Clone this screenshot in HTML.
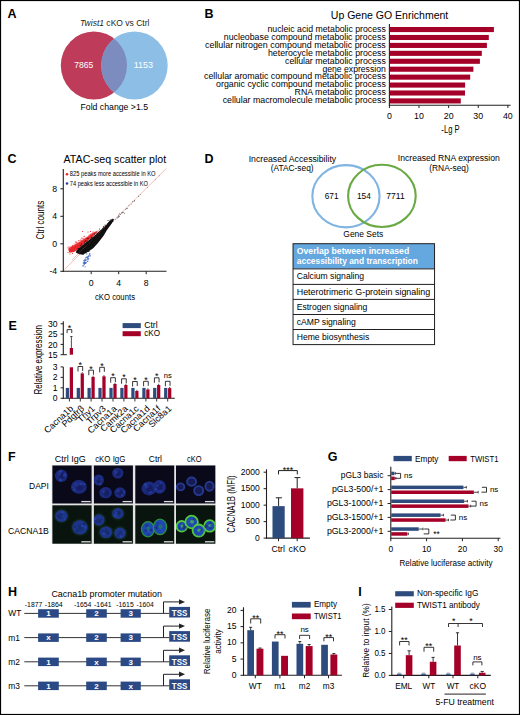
<!DOCTYPE html>
<html><head><meta charset="utf-8"><style>
html,body{margin:0;padding:0;background:#fff;}
svg{display:block;}
text{font-family:"Liberation Sans", sans-serif;}
</style></head><body>
<svg width="520" height="715" viewBox="0 0 520 715">
<rect width="520" height="715" fill="#fff"/>
<text x="7.50" y="18.00" font-size="12.5" font-weight="bold" fill="#000">A</text>
<text x="80" y="26" font-size="9" fill="#231f20" textLength="69.5" lengthAdjust="spacingAndGlyphs"><tspan font-style="italic">Twist1</tspan> cKO vs Ctrl</text>
<ellipse cx="93.9" cy="65.5" rx="33.1" ry="34" fill="#be3c5a"/>
<ellipse cx="134.45" cy="65.55" rx="33.25" ry="34.05" fill="#8cbee6"/>
<clipPath id="cA"><ellipse cx="93.9" cy="65.5" rx="33.1" ry="34"/></clipPath>
<ellipse cx="134.45" cy="65.55" rx="33.25" ry="34.05" fill="#7d8cbe" clip-path="url(#cA)"/>
<text x="83.70" y="68.40" font-size="9.9" text-anchor="middle" fill="#fff" textLength="19.00" lengthAdjust="spacingAndGlyphs">7865</text>
<text x="143.30" y="68.40" font-size="9.9" text-anchor="middle" fill="#fff" textLength="19.20" lengthAdjust="spacingAndGlyphs">1153</text>
<text x="80.50" y="110.00" font-size="9" textLength="67.50" lengthAdjust="spacingAndGlyphs">Fold change &gt;1.5</text>
<text x="204.50" y="18.30" font-size="12.5" font-weight="bold" fill="#000">B</text>
<text x="330.80" y="18.50" font-size="10" textLength="117.50" lengthAdjust="spacingAndGlyphs">Up Gene GO Enrichment</text>
<text x="385.80" y="32.30" font-size="8.4" text-anchor="end" textLength="118.30" lengthAdjust="spacingAndGlyphs">nucleic acid metabolic process</text>
<rect x="390.00" y="27.00" width="103.90" height="5.10" fill="#a50028"/>
<text x="385.80" y="40.16" font-size="8.4" text-anchor="end" textLength="162.05" lengthAdjust="spacingAndGlyphs">nucleobase compound metabolic process</text>
<rect x="390.00" y="34.93" width="98.80" height="5.10" fill="#a50028"/>
<text x="385.80" y="48.02" font-size="8.4" text-anchor="end" textLength="180.80" lengthAdjust="spacingAndGlyphs">cellular nitrogen compound metabolic process</text>
<rect x="390.00" y="42.86" width="96.90" height="5.10" fill="#a50028"/>
<text x="385.80" y="55.88" font-size="8.4" text-anchor="end" textLength="117.80" lengthAdjust="spacingAndGlyphs">heterocycle metabolic process</text>
<rect x="390.00" y="50.79" width="91.80" height="5.10" fill="#a50028"/>
<text x="385.80" y="63.74" font-size="8.4" text-anchor="end" textLength="100.80" lengthAdjust="spacingAndGlyphs">cellular metabolic process</text>
<rect x="390.00" y="58.72" width="89.90" height="5.10" fill="#a50028"/>
<text x="385.80" y="71.60" font-size="8.4" text-anchor="end" textLength="63.40" lengthAdjust="spacingAndGlyphs">gene expression</text>
<rect x="390.00" y="66.65" width="83.40" height="5.10" fill="#a50028"/>
<text x="385.80" y="79.46" font-size="8.4" text-anchor="end" textLength="181.80" lengthAdjust="spacingAndGlyphs">cellular aromatic compound metabolic process</text>
<rect x="390.00" y="74.58" width="80.20" height="5.10" fill="#a50028"/>
<text x="385.80" y="87.32" font-size="8.4" text-anchor="end" textLength="169.70" lengthAdjust="spacingAndGlyphs">organic cyclic compound metabolic process</text>
<rect x="390.00" y="82.51" width="75.10" height="5.10" fill="#a50028"/>
<text x="385.80" y="95.18" font-size="8.4" text-anchor="end" textLength="91.20" lengthAdjust="spacingAndGlyphs">RNA metabolic process</text>
<rect x="390.00" y="90.44" width="75.00" height="5.10" fill="#a50028"/>
<text x="385.80" y="103.04" font-size="8.4" text-anchor="end" textLength="163.10" lengthAdjust="spacingAndGlyphs">cellular macromolecule metabolic process</text>
<rect x="390.00" y="98.37" width="70.80" height="5.10" fill="#a50028"/>
<line x1="389.40" y1="24.00" x2="389.40" y2="105.70" stroke="#231f20" stroke-width="1.1"/>
<line x1="388.90" y1="105.20" x2="510.60" y2="105.20" stroke="#231f20" stroke-width="1.1"/>
<line x1="389.40" y1="105.20" x2="389.40" y2="108.00" stroke="#231f20" stroke-width="1"/>
<text x="389.40" y="118.80" font-size="8.8" text-anchor="middle">0</text>
<line x1="419.02" y1="105.20" x2="419.02" y2="108.00" stroke="#231f20" stroke-width="1"/>
<text x="419.02" y="118.80" font-size="8.8" text-anchor="middle">10</text>
<line x1="448.64" y1="105.20" x2="448.64" y2="108.00" stroke="#231f20" stroke-width="1"/>
<text x="448.64" y="118.80" font-size="8.8" text-anchor="middle">20</text>
<line x1="478.26" y1="105.20" x2="478.26" y2="108.00" stroke="#231f20" stroke-width="1"/>
<text x="478.26" y="118.80" font-size="8.8" text-anchor="middle">30</text>
<line x1="507.88" y1="105.20" x2="507.88" y2="108.00" stroke="#231f20" stroke-width="1"/>
<text x="507.88" y="118.80" font-size="8.8" text-anchor="middle">40</text>
<text x="450.50" y="133.30" font-size="10" text-anchor="middle" textLength="18.30" lengthAdjust="spacingAndGlyphs">-Lg P</text>
<text x="7.50" y="163.00" font-size="12.5" font-weight="bold" fill="#000">C</text>
<text x="63.50" y="162.50" font-size="10.5" textLength="102.70" lengthAdjust="spacingAndGlyphs">ATAC-seq scatter plot</text>
<line x1="64.40" y1="269.50" x2="166.50" y2="168.30" stroke="#f0a0a0" stroke-width="0.7"/>
<g>
<path d="M68.2,249.5 L70.5,247 L76,244 L82,240.5 L88,236.5 L93,233 L96.5,231 L97.5,232 L92,237.5 L84,244 L79,248.5 L74,252 L69.5,252.8 Z" fill="#e8262b" stroke="none" stroke-width="1"/>
<circle cx="77.4" cy="243.5" r="0.45" fill="#ee4040" opacity="0.85"/><circle cx="78.9" cy="242.7" r="0.45" fill="#ee4040" opacity="0.85"/><circle cx="69.7" cy="248.9" r="0.45" fill="#ee4040" opacity="0.85"/><circle cx="91.0" cy="234.7" r="0.45" fill="#ee4040" opacity="0.85"/><circle cx="84.4" cy="236.1" r="0.45" fill="#ee4040" opacity="0.85"/><circle cx="68.8" cy="246.6" r="0.45" fill="#ee4040" opacity="0.85"/><circle cx="72.5" cy="246.4" r="0.45" fill="#ee4040" opacity="0.85"/><circle cx="83.8" cy="238.3" r="0.45" fill="#ee4040" opacity="0.85"/><circle cx="83.5" cy="239.8" r="0.45" fill="#ee4040" opacity="0.85"/><circle cx="78.8" cy="241.1" r="0.45" fill="#ee4040" opacity="0.85"/><circle cx="81.5" cy="240.9" r="0.45" fill="#ee4040" opacity="0.85"/><circle cx="82.8" cy="238.5" r="0.45" fill="#ee4040" opacity="0.85"/><circle cx="89.4" cy="236.4" r="0.45" fill="#ee4040" opacity="0.85"/><circle cx="89.0" cy="236.0" r="0.45" fill="#ee4040" opacity="0.85"/><circle cx="68.4" cy="247.0" r="0.45" fill="#ee4040" opacity="0.85"/><circle cx="76.3" cy="242.4" r="0.45" fill="#ee4040" opacity="0.85"/><circle cx="83.0" cy="238.0" r="0.45" fill="#ee4040" opacity="0.85"/><circle cx="87.2" cy="237.8" r="0.45" fill="#ee4040" opacity="0.85"/><circle cx="84.5" cy="236.1" r="0.45" fill="#ee4040" opacity="0.85"/><circle cx="86.6" cy="236.9" r="0.45" fill="#ee4040" opacity="0.85"/><circle cx="73.4" cy="246.3" r="0.45" fill="#ee4040" opacity="0.85"/><circle cx="74.4" cy="245.3" r="0.45" fill="#ee4040" opacity="0.85"/><circle cx="70.1" cy="247.5" r="0.45" fill="#ee4040" opacity="0.85"/><circle cx="90.9" cy="233.6" r="0.45" fill="#ee4040" opacity="0.85"/><circle cx="75.9" cy="241.4" r="0.45" fill="#ee4040" opacity="0.85"/><circle cx="74.8" cy="245.5" r="0.45" fill="#ee4040" opacity="0.85"/><circle cx="84.9" cy="238.8" r="0.45" fill="#ee4040" opacity="0.85"/><circle cx="84.5" cy="238.9" r="0.45" fill="#ee4040" opacity="0.85"/><circle cx="81.2" cy="240.3" r="0.45" fill="#ee4040" opacity="0.85"/><circle cx="89.9" cy="234.5" r="0.45" fill="#ee4040" opacity="0.85"/><circle cx="79.3" cy="242.1" r="0.45" fill="#ee4040" opacity="0.85"/><circle cx="70.6" cy="248.3" r="0.45" fill="#ee4040" opacity="0.85"/><circle cx="78.2" cy="243.7" r="0.45" fill="#ee4040" opacity="0.85"/><circle cx="79.4" cy="242.9" r="0.45" fill="#ee4040" opacity="0.85"/><circle cx="85.4" cy="238.0" r="0.45" fill="#ee4040" opacity="0.85"/><circle cx="72.4" cy="245.3" r="0.45" fill="#ee4040" opacity="0.85"/><circle cx="81.2" cy="241.3" r="0.45" fill="#ee4040" opacity="0.85"/><circle cx="75.7" cy="244.0" r="0.45" fill="#ee4040" opacity="0.85"/><circle cx="68.2" cy="248.2" r="0.45" fill="#ee4040" opacity="0.85"/><circle cx="67.3" cy="247.7" r="0.45" fill="#ee4040" opacity="0.85"/><circle cx="91.7" cy="233.9" r="0.45" fill="#ee4040" opacity="0.85"/><circle cx="88.5" cy="235.3" r="0.45" fill="#ee4040" opacity="0.85"/><circle cx="78.5" cy="244.4" r="0.45" fill="#ee4040" opacity="0.85"/><circle cx="90.9" cy="234.5" r="0.45" fill="#ee4040" opacity="0.85"/><circle cx="74.1" cy="244.7" r="0.45" fill="#ee4040" opacity="0.85"/><circle cx="76.5" cy="245.3" r="0.45" fill="#ee4040" opacity="0.85"/><circle cx="92.9" cy="231.7" r="0.45" fill="#ee4040" opacity="0.85"/><circle cx="78.7" cy="243.3" r="0.45" fill="#ee4040" opacity="0.85"/><circle cx="74.6" cy="246.4" r="0.45" fill="#ee4040" opacity="0.85"/><circle cx="80.3" cy="239.2" r="0.45" fill="#ee4040" opacity="0.85"/><circle cx="69.1" cy="247.0" r="0.45" fill="#ee4040" opacity="0.85"/><circle cx="80.6" cy="240.2" r="0.45" fill="#ee4040" opacity="0.85"/><circle cx="75.8" cy="242.4" r="0.45" fill="#ee4040" opacity="0.85"/><circle cx="93.9" cy="232.0" r="0.45" fill="#ee4040" opacity="0.85"/><circle cx="72.0" cy="246.0" r="0.45" fill="#ee4040" opacity="0.85"/><circle cx="91.5" cy="234.4" r="0.45" fill="#ee4040" opacity="0.85"/><circle cx="77.9" cy="244.2" r="0.45" fill="#ee4040" opacity="0.85"/><circle cx="85.1" cy="237.7" r="0.45" fill="#ee4040" opacity="0.85"/><circle cx="78.7" cy="240.6" r="0.45" fill="#ee4040" opacity="0.85"/><circle cx="76.2" cy="244.3" r="0.45" fill="#ee4040" opacity="0.85"/><circle cx="75.6" cy="244.9" r="0.45" fill="#ee4040" opacity="0.85"/><circle cx="79.9" cy="240.4" r="0.45" fill="#ee4040" opacity="0.85"/><circle cx="79.0" cy="240.5" r="0.45" fill="#ee4040" opacity="0.85"/><circle cx="69.0" cy="249.0" r="0.45" fill="#ee4040" opacity="0.85"/><circle cx="68.6" cy="248.4" r="0.45" fill="#ee4040" opacity="0.85"/><circle cx="83.5" cy="240.0" r="0.45" fill="#ee4040" opacity="0.85"/><circle cx="83.7" cy="239.3" r="0.45" fill="#ee4040" opacity="0.85"/><circle cx="76.3" cy="243.8" r="0.45" fill="#ee4040" opacity="0.85"/><circle cx="82.9" cy="238.9" r="0.45" fill="#ee4040" opacity="0.85"/><circle cx="81.4" cy="240.1" r="0.45" fill="#ee4040" opacity="0.85"/><circle cx="79.9" cy="241.1" r="0.45" fill="#ee4040" opacity="0.85"/><circle cx="92.4" cy="233.4" r="0.45" fill="#ee4040" opacity="0.85"/><circle cx="81.9" cy="238.0" r="0.45" fill="#ee4040" opacity="0.85"/><circle cx="80.9" cy="241.5" r="0.45" fill="#ee4040" opacity="0.85"/><circle cx="69.3" cy="247.6" r="0.45" fill="#ee4040" opacity="0.85"/><circle cx="87.8" cy="236.4" r="0.45" fill="#ee4040" opacity="0.85"/><circle cx="92.0" cy="233.8" r="0.45" fill="#ee4040" opacity="0.85"/><circle cx="82.8" cy="240.6" r="0.45" fill="#ee4040" opacity="0.85"/><circle cx="72.5" cy="245.4" r="0.45" fill="#ee4040" opacity="0.85"/><circle cx="77.0" cy="243.2" r="0.45" fill="#ee4040" opacity="0.85"/><circle cx="83.8" cy="239.3" r="0.45" fill="#ee4040" opacity="0.85"/><circle cx="82.9" cy="239.8" r="0.45" fill="#ee4040" opacity="0.85"/><circle cx="89.8" cy="235.2" r="0.45" fill="#ee4040" opacity="0.85"/><circle cx="89.7" cy="235.8" r="0.45" fill="#ee4040" opacity="0.85"/><circle cx="78.3" cy="240.4" r="0.45" fill="#ee4040" opacity="0.85"/><circle cx="92.5" cy="232.5" r="0.45" fill="#ee4040" opacity="0.85"/><circle cx="70.2" cy="246.3" r="0.45" fill="#ee4040" opacity="0.85"/><circle cx="93.6" cy="232.2" r="0.45" fill="#ee4040" opacity="0.85"/><circle cx="70.9" cy="248.2" r="0.45" fill="#ee4040" opacity="0.85"/><circle cx="76.2" cy="242.3" r="0.45" fill="#ee4040" opacity="0.85"/><circle cx="75.8" cy="243.9" r="0.45" fill="#ee4040" opacity="0.85"/><circle cx="73.2" cy="246.3" r="0.45" fill="#ee4040" opacity="0.85"/><circle cx="77.6" cy="243.3" r="0.45" fill="#ee4040" opacity="0.85"/><circle cx="72.6" cy="245.3" r="0.45" fill="#ee4040" opacity="0.85"/><circle cx="74.1" cy="243.1" r="0.45" fill="#ee4040" opacity="0.85"/><circle cx="81.8" cy="240.9" r="0.45" fill="#ee4040" opacity="0.85"/><circle cx="90.2" cy="234.3" r="0.45" fill="#ee4040" opacity="0.85"/><circle cx="81.2" cy="238.4" r="0.45" fill="#ee4040" opacity="0.85"/><circle cx="76.8" cy="242.4" r="0.45" fill="#ee4040" opacity="0.85"/><circle cx="77.8" cy="242.7" r="0.45" fill="#ee4040" opacity="0.85"/><circle cx="70.5" cy="248.3" r="0.45" fill="#ee4040" opacity="0.85"/><circle cx="91.8" cy="233.9" r="0.45" fill="#ee4040" opacity="0.85"/><circle cx="77.0" cy="244.2" r="0.45" fill="#ee4040" opacity="0.85"/><circle cx="80.8" cy="242.8" r="0.45" fill="#ee4040" opacity="0.85"/><circle cx="94.4" cy="232.1" r="0.45" fill="#ee4040" opacity="0.85"/><circle cx="78.9" cy="243.1" r="0.45" fill="#ee4040" opacity="0.85"/><circle cx="81.1" cy="240.4" r="0.45" fill="#ee4040" opacity="0.85"/><circle cx="76.6" cy="245.1" r="0.45" fill="#ee4040" opacity="0.85"/><circle cx="69.3" cy="248.0" r="0.45" fill="#ee4040" opacity="0.85"/><circle cx="81.9" cy="238.1" r="0.45" fill="#ee4040" opacity="0.85"/><circle cx="82.5" cy="231.5" r="0.55" fill="#e8262b"/><circle cx="88" cy="232" r="0.55" fill="#e8262b"/><circle cx="90.5" cy="231.5" r="0.55" fill="#e8262b"/><circle cx="84" cy="236.5" r="0.55" fill="#e8262b"/><circle cx="76" cy="242" r="0.55" fill="#e8262b"/><circle cx="68" cy="252.5" r="0.55" fill="#e8262b"/><circle cx="70" cy="254" r="0.55" fill="#e8262b"/><circle cx="72.5" cy="253.5" r="0.55" fill="#e8262b"/>
<circle cx="85.6" cy="262.3" r="0.55" fill="#3a62c0"/><circle cx="87.4" cy="258.3" r="0.55" fill="#3a62c0"/><circle cx="84.5" cy="262.8" r="0.55" fill="#3a62c0"/><circle cx="85.4" cy="263.5" r="0.55" fill="#3a62c0"/><circle cx="84.9" cy="262.7" r="0.55" fill="#3a62c0"/><circle cx="83.6" cy="260.7" r="0.55" fill="#3a62c0"/><circle cx="85.1" cy="262.9" r="0.55" fill="#3a62c0"/><circle cx="83.3" cy="263.6" r="0.55" fill="#3a62c0"/><circle cx="87.9" cy="257.1" r="0.55" fill="#3a62c0"/><circle cx="88.2" cy="259.8" r="0.55" fill="#3a62c0"/><circle cx="84.5" cy="260.2" r="0.55" fill="#3a62c0"/><circle cx="84.9" cy="262.6" r="0.55" fill="#3a62c0"/><circle cx="84.4" cy="262.8" r="0.55" fill="#3a62c0"/><circle cx="85.4" cy="260.6" r="0.55" fill="#3a62c0"/><circle cx="84.7" cy="263.5" r="0.55" fill="#3a62c0"/><circle cx="87.0" cy="256.9" r="0.55" fill="#3a62c0"/><circle cx="85.9" cy="263.1" r="0.55" fill="#3a62c0"/><circle cx="84.8" cy="259.2" r="0.55" fill="#3a62c0"/><circle cx="83.4" cy="262.6" r="0.55" fill="#3a62c0"/><circle cx="88.8" cy="255.2" r="0.55" fill="#3a62c0"/><circle cx="84.2" cy="264.4" r="0.55" fill="#3a62c0"/><circle cx="89.6" cy="253.7" r="0.55" fill="#3a62c0"/><circle cx="84.4" cy="261.2" r="0.55" fill="#3a62c0"/><circle cx="85.7" cy="257.7" r="0.55" fill="#3a62c0"/><circle cx="87.7" cy="261.4" r="0.55" fill="#3a62c0"/><circle cx="90.0" cy="256.3" r="0.55" fill="#3a62c0"/><circle cx="86.8" cy="253.9" r="0.55" fill="#3a62c0"/><circle cx="82.8" cy="265.9" r="0.55" fill="#3a62c0"/><circle cx="88.1" cy="256.5" r="0.55" fill="#3a62c0"/><circle cx="86.3" cy="262.3" r="0.55" fill="#3a62c0"/><circle cx="85.1" cy="266.7" r="0.55" fill="#3a62c0"/><circle cx="87.1" cy="259.7" r="0.55" fill="#3a62c0"/><circle cx="88.3" cy="256.4" r="0.55" fill="#3a62c0"/><circle cx="90.0" cy="253.7" r="0.55" fill="#3a62c0"/><circle cx="85.9" cy="260.3" r="0.55" fill="#3a62c0"/><circle cx="85.8" cy="260.1" r="0.55" fill="#3a62c0"/><circle cx="89.0" cy="251.4" r="0.55" fill="#3a62c0"/><circle cx="89.5" cy="254.8" r="0.55" fill="#3a62c0"/><circle cx="83.7" cy="265.8" r="0.55" fill="#3a62c0"/><circle cx="87.9" cy="259.1" r="0.55" fill="#3a62c0"/><circle cx="85.8" cy="259.1" r="0.55" fill="#3a62c0"/><circle cx="90.2" cy="255.2" r="0.55" fill="#3a62c0"/><circle cx="87.7" cy="257.5" r="0.55" fill="#3a62c0"/><circle cx="86.4" cy="257.5" r="0.55" fill="#3a62c0"/><circle cx="88.7" cy="258.4" r="0.55" fill="#3a62c0"/>
<path d="M76.6,250.2 L82.8,245 L93.2,236.7 L103.6,227.4 L109,222 L112.9,218.4 L114,219.5 L111.9,223.2 L107,230 L103.6,235.7 L98,243 L93.2,248.2 L87,252.5 L82.8,254.8 L78.5,254 L75.8,252.5 Z" fill="#111" stroke="none" stroke-width="1"/>
<line x1="72.00" y1="260.00" x2="112.00" y2="220.00" stroke="#d04040" stroke-width="0.5" opacity="0.7"/>
<circle cx="105.0" cy="225.0" r="0.5" fill="#111"/><circle cx="109.3" cy="221.1" r="0.5" fill="#111"/><circle cx="97.5" cy="234.4" r="0.5" fill="#111"/><circle cx="103.2" cy="228.3" r="0.5" fill="#111"/><circle cx="94.5" cy="237.6" r="0.5" fill="#111"/><circle cx="87.2" cy="240.9" r="0.5" fill="#111"/><circle cx="82.4" cy="251.2" r="0.5" fill="#111"/><circle cx="94.8" cy="236.6" r="0.5" fill="#111"/><circle cx="90.4" cy="240.4" r="0.5" fill="#111"/><circle cx="111.9" cy="221.5" r="0.5" fill="#111"/><circle cx="87.7" cy="243.0" r="0.5" fill="#111"/><circle cx="97.1" cy="233.5" r="0.5" fill="#111"/><circle cx="93.0" cy="239.7" r="0.5" fill="#111"/><circle cx="87.4" cy="246.1" r="0.5" fill="#111"/><circle cx="108.6" cy="222.6" r="0.5" fill="#111"/><circle cx="109.0" cy="223.0" r="0.5" fill="#111"/><circle cx="111.7" cy="219.9" r="0.5" fill="#111"/><circle cx="86.4" cy="246.1" r="0.5" fill="#111"/><circle cx="82.5" cy="248.7" r="0.5" fill="#111"/><circle cx="88.2" cy="244.9" r="0.5" fill="#111"/><circle cx="85.6" cy="241.1" r="0.5" fill="#111"/><circle cx="103.3" cy="227.3" r="0.5" fill="#111"/><circle cx="91.9" cy="237.5" r="0.5" fill="#111"/><circle cx="92.8" cy="240.7" r="0.5" fill="#111"/><circle cx="91.8" cy="242.2" r="0.5" fill="#111"/><circle cx="111.1" cy="221.2" r="0.5" fill="#111"/><circle cx="81.8" cy="245.7" r="0.5" fill="#111"/><circle cx="107.6" cy="224.4" r="0.5" fill="#111"/><circle cx="86.8" cy="244.9" r="0.5" fill="#111"/><circle cx="93.7" cy="240.1" r="0.5" fill="#111"/><circle cx="96.4" cy="239.9" r="0.5" fill="#111"/><circle cx="107.6" cy="223.7" r="0.5" fill="#111"/><circle cx="83.4" cy="254.0" r="0.5" fill="#111"/><circle cx="108.8" cy="223.5" r="0.5" fill="#111"/><circle cx="95.1" cy="236.8" r="0.5" fill="#111"/><circle cx="92.5" cy="239.5" r="0.5" fill="#111"/><circle cx="110.1" cy="222.8" r="0.5" fill="#111"/><circle cx="110.3" cy="220.1" r="0.5" fill="#111"/><circle cx="88.6" cy="244.7" r="0.5" fill="#111"/><circle cx="97.1" cy="235.7" r="0.5" fill="#111"/><circle cx="103.1" cy="231.4" r="0.5" fill="#111"/><circle cx="100.2" cy="230.8" r="0.5" fill="#111"/><circle cx="103.6" cy="226.6" r="0.5" fill="#111"/><circle cx="81.8" cy="251.3" r="0.5" fill="#111"/><circle cx="105.2" cy="227.1" r="0.5" fill="#111"/><circle cx="102.7" cy="233.3" r="0.5" fill="#111"/><circle cx="90.4" cy="243.0" r="0.5" fill="#111"/><circle cx="100.9" cy="232.1" r="0.5" fill="#111"/><circle cx="102.6" cy="229.9" r="0.5" fill="#111"/><circle cx="97.0" cy="235.5" r="0.5" fill="#111"/><circle cx="98.1" cy="232.8" r="0.5" fill="#111"/><circle cx="99.7" cy="233.2" r="0.5" fill="#111"/><circle cx="79.7" cy="251.0" r="0.5" fill="#111"/><circle cx="111.2" cy="221.8" r="0.5" fill="#111"/><circle cx="101.4" cy="232.1" r="0.5" fill="#111"/><circle cx="86.4" cy="243.4" r="0.5" fill="#111"/><circle cx="90.1" cy="246.3" r="0.5" fill="#111"/><circle cx="89.3" cy="241.6" r="0.5" fill="#111"/><circle cx="78.1" cy="248.7" r="0.5" fill="#111"/><circle cx="93.5" cy="238.6" r="0.5" fill="#111"/><circle cx="86.6" cy="242.2" r="0.5" fill="#111"/><circle cx="84.4" cy="241.9" r="0.5" fill="#111"/><circle cx="80.1" cy="250.0" r="0.5" fill="#111"/><circle cx="102.6" cy="230.9" r="0.5" fill="#111"/><circle cx="87.1" cy="246.4" r="0.5" fill="#111"/><circle cx="94.5" cy="234.1" r="0.5" fill="#111"/><circle cx="87.8" cy="246.7" r="0.5" fill="#111"/><circle cx="106.1" cy="225.7" r="0.5" fill="#111"/><circle cx="87.8" cy="245.1" r="0.5" fill="#111"/><circle cx="91.7" cy="244.8" r="0.5" fill="#111"/><circle cx="110.1" cy="221.2" r="0.5" fill="#111"/><circle cx="87.2" cy="244.9" r="0.5" fill="#111"/><circle cx="91.9" cy="237.2" r="0.5" fill="#111"/><circle cx="81.4" cy="244.0" r="0.5" fill="#111"/><circle cx="93.4" cy="240.2" r="0.5" fill="#111"/><circle cx="88.7" cy="251.6" r="0.5" fill="#111"/><circle cx="83.2" cy="251.9" r="0.5" fill="#111"/><circle cx="108.9" cy="223.5" r="0.5" fill="#111"/><circle cx="108.1" cy="223.5" r="0.5" fill="#111"/><circle cx="108.0" cy="220.4" r="0.5" fill="#111"/><circle cx="91.8" cy="242.7" r="0.5" fill="#111"/><circle cx="105.5" cy="229.8" r="0.5" fill="#111"/><circle cx="80.2" cy="250.1" r="0.5" fill="#111"/><circle cx="90.9" cy="239.0" r="0.5" fill="#111"/><circle cx="90.7" cy="241.4" r="0.5" fill="#111"/><circle cx="89.0" cy="243.1" r="0.5" fill="#111"/><circle cx="91.9" cy="241.4" r="0.5" fill="#111"/><circle cx="110.8" cy="221.1" r="0.5" fill="#111"/><circle cx="84.9" cy="243.7" r="0.5" fill="#111"/><circle cx="107.3" cy="226.7" r="0.5" fill="#111"/><circle cx="95.1" cy="239.4" r="0.5" fill="#111"/><circle cx="92.4" cy="240.5" r="0.5" fill="#111"/><circle cx="109.6" cy="222.8" r="0.5" fill="#111"/><circle cx="109.2" cy="223.8" r="0.5" fill="#111"/><circle cx="78.3" cy="248.4" r="0.5" fill="#111"/><circle cx="105.2" cy="228.2" r="0.5" fill="#111"/><circle cx="81.9" cy="251.3" r="0.5" fill="#111"/><circle cx="109.5" cy="222.6" r="0.5" fill="#111"/><circle cx="88.2" cy="243.7" r="0.5" fill="#111"/><circle cx="88.1" cy="238.4" r="0.5" fill="#111"/><circle cx="90.6" cy="245.2" r="0.5" fill="#111"/><circle cx="87.9" cy="243.1" r="0.5" fill="#111"/><circle cx="102.7" cy="228.8" r="0.5" fill="#111"/><circle cx="81.4" cy="253.2" r="0.5" fill="#111"/><circle cx="105.1" cy="228.7" r="0.5" fill="#111"/><circle cx="109.8" cy="221.5" r="0.5" fill="#111"/><circle cx="81.0" cy="251.4" r="0.5" fill="#111"/><circle cx="111.2" cy="221.9" r="0.5" fill="#111"/><circle cx="110.2" cy="221.2" r="0.5" fill="#111"/><circle cx="94.3" cy="238.8" r="0.5" fill="#111"/><circle cx="96.4" cy="236.8" r="0.5" fill="#111"/><circle cx="105.5" cy="226.1" r="0.5" fill="#111"/><circle cx="104.2" cy="229.0" r="0.5" fill="#111"/><circle cx="98.0" cy="231.1" r="0.5" fill="#111"/><circle cx="90.0" cy="241.0" r="0.5" fill="#111"/><circle cx="105.6" cy="227.6" r="0.5" fill="#111"/><circle cx="83.4" cy="250.4" r="0.5" fill="#111"/><circle cx="90.2" cy="246.3" r="0.5" fill="#111"/><circle cx="84.2" cy="252.0" r="0.5" fill="#111"/><circle cx="90.8" cy="241.9" r="0.5" fill="#111"/><circle cx="112.4" cy="221.6" r="0.5" fill="#111"/><circle cx="85.7" cy="240.7" r="0.5" fill="#111"/><circle cx="84.3" cy="250.9" r="0.5" fill="#111"/><circle cx="103.3" cy="229.8" r="0.5" fill="#111"/><circle cx="94.4" cy="237.8" r="0.5" fill="#111"/><circle cx="100.8" cy="233.1" r="0.5" fill="#111"/><circle cx="101.6" cy="230.4" r="0.5" fill="#111"/><circle cx="99.6" cy="229.1" r="0.5" fill="#111"/><circle cx="84.6" cy="248.8" r="0.5" fill="#111"/><circle cx="97.4" cy="233.2" r="0.5" fill="#111"/><circle cx="91.9" cy="240.0" r="0.5" fill="#111"/><circle cx="87.0" cy="243.1" r="0.5" fill="#111"/><circle cx="89.6" cy="245.8" r="0.5" fill="#111"/><circle cx="100.2" cy="235.2" r="0.5" fill="#111"/><circle cx="87.2" cy="238.3" r="0.5" fill="#111"/><circle cx="98.3" cy="237.8" r="0.5" fill="#111"/><circle cx="88.2" cy="245.4" r="0.5" fill="#111"/><circle cx="111.1" cy="219.7" r="0.5" fill="#111"/><circle cx="80.3" cy="245.8" r="0.5" fill="#111"/><circle cx="107.1" cy="225.3" r="0.5" fill="#111"/><circle cx="134.4" cy="200.9" r="0.45" fill="#222"/><circle cx="117.1" cy="217.1" r="0.45" fill="#222"/><circle cx="127.2" cy="208.5" r="0.45" fill="#222"/><circle cx="132.5" cy="201.9" r="0.45" fill="#222"/><circle cx="131.2" cy="204.1" r="0.45" fill="#222"/><circle cx="126.7" cy="208.3" r="0.45" fill="#222"/><circle cx="122.2" cy="212.7" r="0.45" fill="#222"/><circle cx="118.8" cy="216.0" r="0.45" fill="#222"/><circle cx="118.9" cy="216.6" r="0.45" fill="#222"/><circle cx="129.0" cy="205.8" r="0.45" fill="#222"/><circle cx="118.6" cy="217.3" r="0.45" fill="#222"/><circle cx="115.7" cy="219.4" r="0.45" fill="#222"/><circle cx="125.8" cy="209.2" r="0.45" fill="#222"/><circle cx="117.3" cy="218.0" r="0.45" fill="#222"/><circle cx="119.6" cy="213.6" r="0.45" fill="#222"/><circle cx="120.3" cy="214.5" r="0.45" fill="#222"/><circle cx="124.3" cy="213.3" r="0.45" fill="#222"/><circle cx="122.2" cy="212.3" r="0.45" fill="#222"/><circle cx="119.6" cy="216.6" r="0.45" fill="#222"/><circle cx="123.5" cy="212.3" r="0.45" fill="#222"/><circle cx="133.0" cy="201.6" r="0.45" fill="#222"/><circle cx="113.5" cy="221.0" r="0.45" fill="#222"/><circle cx="134.6" cy="200.7" r="0.45" fill="#222"/><circle cx="121.7" cy="213.0" r="0.45" fill="#222"/><circle cx="118.9" cy="215.0" r="0.45" fill="#222"/><circle cx="138.5" cy="196.5" r="0.4" fill="#333"/><circle cx="147.7" cy="187.3" r="0.4" fill="#333"/><circle cx="155.3" cy="179.7" r="0.4" fill="#333"/><circle cx="159.2" cy="175.8" r="0.4" fill="#333"/><circle cx="140.6" cy="194.4" r="0.4" fill="#333"/><circle cx="138.9" cy="196.1" r="0.4" fill="#333"/>
</g>
<circle cx="67" cy="174.2" r="1.3" fill="#e8262b"/>
<circle cx="67" cy="183.5" r="1.3" fill="#2a3f9f"/>
<text x="69.80" y="176.20" font-size="7.0" textLength="85.80" lengthAdjust="spacingAndGlyphs">825 peaks more accessible in KO</text>
<text x="69.80" y="185.60" font-size="7.0" textLength="78.20" lengthAdjust="spacingAndGlyphs">74 peaks less accessible in KO</text>
<line x1="63.30" y1="169.00" x2="63.30" y2="271.80" stroke="#231f20" stroke-width="1.1"/>
<line x1="62.80" y1="271.30" x2="166.50" y2="271.30" stroke="#231f20" stroke-width="1.1"/>
<line x1="60.30" y1="271.30" x2="63.30" y2="271.30" stroke="#231f20" stroke-width="1"/>
<text x="57.20" y="274.30" font-size="8.7" text-anchor="end">-4</text>
<line x1="60.30" y1="243.80" x2="63.30" y2="243.80" stroke="#231f20" stroke-width="1"/>
<text x="57.20" y="246.80" font-size="8.7" text-anchor="end">0</text>
<line x1="60.30" y1="216.30" x2="63.30" y2="216.30" stroke="#231f20" stroke-width="1"/>
<text x="57.20" y="219.30" font-size="8.7" text-anchor="end">4</text>
<line x1="60.30" y1="188.80" x2="63.30" y2="188.80" stroke="#231f20" stroke-width="1"/>
<text x="57.20" y="191.80" font-size="8.7" text-anchor="end">8</text>
<line x1="91.20" y1="271.30" x2="91.20" y2="274.20" stroke="#231f20" stroke-width="1"/>
<text x="91.20" y="285.60" font-size="8.7" text-anchor="middle">0</text>
<line x1="118.70" y1="271.30" x2="118.70" y2="274.20" stroke="#231f20" stroke-width="1"/>
<text x="118.70" y="285.60" font-size="8.7" text-anchor="middle">4</text>
<line x1="146.20" y1="271.30" x2="146.20" y2="274.20" stroke="#231f20" stroke-width="1"/>
<text x="146.20" y="285.60" font-size="8.7" text-anchor="middle">8</text>
<text x="115.00" y="300.00" font-size="9.6" text-anchor="middle" textLength="40.00" lengthAdjust="spacingAndGlyphs">cKO counts</text>
<text x="44.40" y="220.00" font-size="10.6" text-anchor="middle" textLength="38.80" lengthAdjust="spacingAndGlyphs" transform="rotate(-90 44.40 220.00)">Ctrl counts</text>
<text x="204.50" y="163.00" font-size="12.5" font-weight="bold" fill="#000">D</text>
<text x="248.70" y="161.60" font-size="8.4" textLength="87.50" lengthAdjust="spacingAndGlyphs">Increased Accessibility</text>
<text x="270.80" y="170.90" font-size="8.4" textLength="42.80" lengthAdjust="spacingAndGlyphs">(ATAC-seq)</text>
<text x="397.80" y="160.80" font-size="8.4" textLength="102.00" lengthAdjust="spacingAndGlyphs">Increased RNA expression</text>
<text x="429.30" y="171.20" font-size="8.4" textLength="39.50" lengthAdjust="spacingAndGlyphs">(RNA-seq)</text>
<ellipse cx="345.95" cy="196.25" rx="33.6" ry="31.1" fill="none" stroke="#80b4e2" stroke-width="2.1"/>
<ellipse cx="381.9" cy="195.9" rx="33.8" ry="31.1" fill="none" stroke="#6aaa45" stroke-width="2.1"/>
<text x="331.60" y="199.20" font-size="8.6" text-anchor="middle" textLength="13.80" lengthAdjust="spacingAndGlyphs">671</text>
<text x="363.90" y="199.20" font-size="8.6" text-anchor="middle" textLength="13.80" lengthAdjust="spacingAndGlyphs">154</text>
<text x="395.50" y="199.20" font-size="8.6" text-anchor="middle" textLength="18.30" lengthAdjust="spacingAndGlyphs">7711</text>
<text x="363.30" y="237.00" font-size="8.6" text-anchor="middle" textLength="40.00" lengthAdjust="spacingAndGlyphs">Gene Sets</text>
<rect x="293.00" y="243.70" width="141.50" height="25.00" fill="#65a7df"/>
<rect x="293.05" y="243.7" width="141.5" height="100.9" fill="none" stroke="#231f20" stroke-width="1"/>
<line x1="293.00" y1="268.90" x2="434.50" y2="268.90" stroke="#231f20" stroke-width="1"/>
<line x1="293.00" y1="284.40" x2="434.50" y2="284.40" stroke="#231f20" stroke-width="1"/>
<line x1="293.00" y1="299.40" x2="434.50" y2="299.40" stroke="#231f20" stroke-width="1"/>
<line x1="293.00" y1="314.50" x2="434.50" y2="314.50" stroke="#231f20" stroke-width="1"/>
<line x1="293.00" y1="329.50" x2="434.50" y2="329.50" stroke="#231f20" stroke-width="1"/>
<text x="296.80" y="253.60" font-size="8.4" font-weight="bold" fill="#fff" textLength="112.40" lengthAdjust="spacingAndGlyphs">Overlap between increased</text>
<text x="296.80" y="263.70" font-size="8.4" font-weight="bold" fill="#fff" textLength="121.00" lengthAdjust="spacingAndGlyphs">accessibility and transcription</text>
<text x="296.70" y="279.40" font-size="8.6">Calcium signaling</text>
<text x="296.70" y="294.60" font-size="8.6" textLength="133.50" lengthAdjust="spacingAndGlyphs">Heterotrimeric G-protein signaling</text>
<text x="296.70" y="309.70" font-size="8.6">Estrogen signaling</text>
<text x="296.70" y="324.80" font-size="8.6">cAMP signaling</text>
<text x="296.70" y="339.60" font-size="8.6">Heme biosynthesis</text>
<text x="8.50" y="329.80" font-size="12.5" font-weight="bold" fill="#000">E</text>
<rect x="122.60" y="323.10" width="18.20" height="5.00" fill="#2d4b7d"/>
<rect x="122.60" y="331.20" width="18.20" height="5.00" fill="#a50028"/>
<text x="144.20" y="328.10" font-size="8.5" textLength="13.50" lengthAdjust="spacingAndGlyphs">Ctrl</text>
<text x="144.20" y="336.10" font-size="8.5" textLength="15.80" lengthAdjust="spacingAndGlyphs">cKO</text>
<text x="41.80" y="359.70" font-size="10.3" text-anchor="middle" textLength="69.40" lengthAdjust="spacingAndGlyphs" transform="rotate(-90 41.80 359.70)">Relative expression</text>
<line x1="63.30" y1="321.30" x2="63.30" y2="354.70" stroke="#231f20" stroke-width="1.1"/>
<line x1="60.60" y1="354.70" x2="63.30" y2="354.70" stroke="#231f20" stroke-width="1"/>
<text x="57.60" y="357.80" font-size="8.6" text-anchor="end">15</text>
<line x1="60.60" y1="344.40" x2="63.30" y2="344.40" stroke="#231f20" stroke-width="1"/>
<text x="57.60" y="347.50" font-size="8.6" text-anchor="end">20</text>
<line x1="60.60" y1="334.10" x2="63.30" y2="334.10" stroke="#231f20" stroke-width="1"/>
<text x="57.60" y="337.20" font-size="8.6" text-anchor="end">25</text>
<line x1="60.60" y1="323.80" x2="63.30" y2="323.80" stroke="#231f20" stroke-width="1"/>
<text x="57.60" y="326.90" font-size="8.6" text-anchor="end">30</text>
<line x1="63.30" y1="354.70" x2="66.90" y2="354.70" stroke="#231f20" stroke-width="1"/>
<line x1="63.30" y1="366.90" x2="63.30" y2="398.80" stroke="#231f20" stroke-width="1.1"/>
<line x1="60.60" y1="398.30" x2="63.30" y2="398.30" stroke="#231f20" stroke-width="1"/>
<text x="57.60" y="401.40" font-size="8.6" text-anchor="end">0</text>
<line x1="60.60" y1="387.83" x2="63.30" y2="387.83" stroke="#231f20" stroke-width="1"/>
<text x="57.60" y="390.93" font-size="8.6" text-anchor="end">1</text>
<line x1="60.60" y1="377.37" x2="63.30" y2="377.37" stroke="#231f20" stroke-width="1"/>
<text x="57.60" y="380.47" font-size="8.6" text-anchor="end">2</text>
<line x1="60.60" y1="366.90" x2="63.30" y2="366.90" stroke="#231f20" stroke-width="1"/>
<text x="57.60" y="370.00" font-size="8.6" text-anchor="end">3</text>
<line x1="62.80" y1="398.30" x2="174.80" y2="398.30" stroke="#231f20" stroke-width="1.1"/>
<rect x="65.80" y="387.90" width="3.25" height="10.40" fill="#2d4b7d"/>
<rect x="69.75" y="367.30" width="3.25" height="31.00" fill="#a50028"/>
<rect x="69.75" y="348.00" width="3.25" height="6.70" fill="#a50028"/>
<line x1="71.38" y1="348.00" x2="71.38" y2="336.50" stroke="#231f20" stroke-width="0.8"/>
<line x1="70.25" y1="336.50" x2="72.50" y2="336.50" stroke="#231f20" stroke-width="0.8"/>
<path d="M67.10,333 V329.6 H71.75 V333" fill="none" stroke="#231f20" stroke-width="0.9"/>
<text x="69.40" y="331.00" font-size="9" text-anchor="middle">*</text>
<line x1="69.40" y1="398.30" x2="69.40" y2="401.50" stroke="#231f20" stroke-width="0.9"/>
<text x="73.80" y="409.30" font-size="9.0" text-anchor="end" transform="rotate(-43 73.80 409.30)">Cacna1b</text>
<rect x="76.70" y="387.90" width="3.25" height="10.40" fill="#2d4b7d"/>
<rect x="80.65" y="373.40" width="3.25" height="24.90" fill="#a50028"/>
<line x1="82.28" y1="373.40" x2="82.28" y2="372.20" stroke="#231f20" stroke-width="0.8"/>
<path d="M78.00,371.50 V366.50 H82.65 V371.00" fill="none" stroke="#231f20" stroke-width="0.9"/>
<text x="80.30" y="367.80" font-size="9" text-anchor="middle">*</text>
<line x1="80.30" y1="398.30" x2="80.30" y2="401.50" stroke="#231f20" stroke-width="0.9"/>
<text x="84.70" y="409.30" font-size="9.0" text-anchor="end" transform="rotate(-43 84.70 409.30)">Pdgfr&#946;</text>
<rect x="87.50" y="387.90" width="3.25" height="10.40" fill="#2d4b7d"/>
<rect x="91.45" y="376.90" width="3.25" height="21.40" fill="#a50028"/>
<line x1="93.08" y1="376.90" x2="93.08" y2="375.70" stroke="#231f20" stroke-width="0.8"/>
<path d="M88.80,375.20 V370.20 H93.45 V374.70" fill="none" stroke="#231f20" stroke-width="0.9"/>
<text x="91.10" y="371.50" font-size="9" text-anchor="middle">*</text>
<line x1="91.10" y1="398.30" x2="91.10" y2="401.50" stroke="#231f20" stroke-width="0.9"/>
<text x="95.50" y="409.30" font-size="9.0" text-anchor="end" transform="rotate(-43 95.50 409.30)">Thy1</text>
<rect x="98.40" y="387.90" width="3.25" height="10.40" fill="#2d4b7d"/>
<rect x="102.35" y="376.30" width="3.25" height="22.00" fill="#a50028"/>
<line x1="103.98" y1="376.30" x2="103.98" y2="375.10" stroke="#231f20" stroke-width="0.8"/>
<path d="M99.70,372.30 V367.30 H104.35 V371.80" fill="none" stroke="#231f20" stroke-width="0.9"/>
<text x="102.00" y="368.60" font-size="9" text-anchor="middle">*</text>
<line x1="102.00" y1="398.30" x2="102.00" y2="401.50" stroke="#231f20" stroke-width="0.9"/>
<text x="106.40" y="409.30" font-size="9.0" text-anchor="end" transform="rotate(-43 106.40 409.30)">Trpv3</text>
<rect x="109.40" y="387.90" width="3.25" height="10.40" fill="#2d4b7d"/>
<rect x="113.35" y="384.00" width="3.25" height="14.30" fill="#a50028"/>
<line x1="114.98" y1="384.00" x2="114.98" y2="382.80" stroke="#231f20" stroke-width="0.8"/>
<path d="M110.70,382.70 V377.70 H115.35 V382.20" fill="none" stroke="#231f20" stroke-width="0.9"/>
<text x="113.00" y="379.00" font-size="9" text-anchor="middle">*</text>
<line x1="113.00" y1="398.30" x2="113.00" y2="401.50" stroke="#231f20" stroke-width="0.9"/>
<text x="117.40" y="409.30" font-size="9.0" text-anchor="end" transform="rotate(-43 117.40 409.30)">Cacna1a</text>
<rect x="120.30" y="387.90" width="3.25" height="10.40" fill="#2d4b7d"/>
<rect x="124.25" y="385.00" width="3.25" height="13.30" fill="#a50028"/>
<line x1="125.88" y1="385.00" x2="125.88" y2="383.80" stroke="#231f20" stroke-width="0.8"/>
<path d="M121.60,383.80 V378.80 H126.25 V383.30" fill="none" stroke="#231f20" stroke-width="0.9"/>
<text x="123.90" y="380.10" font-size="9" text-anchor="middle">*</text>
<line x1="123.90" y1="398.30" x2="123.90" y2="401.50" stroke="#231f20" stroke-width="0.9"/>
<text x="128.30" y="409.30" font-size="9.0" text-anchor="end" transform="rotate(-43 128.30 409.30)">Camk2a</text>
<rect x="131.30" y="387.90" width="3.25" height="10.40" fill="#2d4b7d"/>
<rect x="135.25" y="391.00" width="3.25" height="7.30" fill="#a50028"/>
<line x1="136.88" y1="391.00" x2="136.88" y2="389.80" stroke="#231f20" stroke-width="0.8"/>
<path d="M132.60,386.50 V381.50 H137.25 V386.00" fill="none" stroke="#231f20" stroke-width="0.9"/>
<text x="134.90" y="382.80" font-size="9" text-anchor="middle">*</text>
<line x1="134.90" y1="398.30" x2="134.90" y2="401.50" stroke="#231f20" stroke-width="0.9"/>
<text x="139.30" y="409.30" font-size="9.0" text-anchor="end" transform="rotate(-43 139.30 409.30)">Cacna1c</text>
<rect x="142.30" y="387.90" width="3.25" height="10.40" fill="#2d4b7d"/>
<rect x="146.25" y="389.40" width="3.25" height="8.90" fill="#a50028"/>
<line x1="147.88" y1="389.40" x2="147.88" y2="388.20" stroke="#231f20" stroke-width="0.8"/>
<path d="M143.60,386.30 V381.30 H148.25 V385.80" fill="none" stroke="#231f20" stroke-width="0.9"/>
<text x="145.90" y="382.60" font-size="9" text-anchor="middle">*</text>
<line x1="145.90" y1="398.30" x2="145.90" y2="401.50" stroke="#231f20" stroke-width="0.9"/>
<text x="150.30" y="409.30" font-size="9.0" text-anchor="end" transform="rotate(-43 150.30 409.30)">Cacna1d</text>
<rect x="153.10" y="387.90" width="3.25" height="10.40" fill="#2d4b7d"/>
<rect x="157.05" y="385.00" width="3.25" height="13.30" fill="#a50028"/>
<line x1="158.67" y1="385.00" x2="158.67" y2="383.80" stroke="#231f20" stroke-width="0.8"/>
<path d="M154.40,382.80 V377.80 H159.05 V382.30" fill="none" stroke="#231f20" stroke-width="0.9"/>
<text x="156.70" y="379.10" font-size="9" text-anchor="middle">*</text>
<line x1="156.70" y1="398.30" x2="156.70" y2="401.50" stroke="#231f20" stroke-width="0.9"/>
<text x="161.10" y="409.30" font-size="9.0" text-anchor="end" transform="rotate(-43 161.10 409.30)">Cacna1f</text>
<rect x="164.10" y="387.90" width="3.25" height="10.40" fill="#2d4b7d"/>
<rect x="168.05" y="388.10" width="3.25" height="10.20" fill="#a50028"/>
<line x1="169.67" y1="388.10" x2="169.67" y2="386.90" stroke="#231f20" stroke-width="0.8"/>
<path d="M165.40,386.30 V381.30 H170.05 V385.80" fill="none" stroke="#231f20" stroke-width="0.9"/>
<text x="167.80" y="377.90" font-size="7.5" text-anchor="middle" textLength="8.00" lengthAdjust="spacingAndGlyphs">ns</text>
<line x1="167.70" y1="398.30" x2="167.70" y2="401.50" stroke="#231f20" stroke-width="0.9"/>
<text x="172.10" y="409.30" font-size="9.0" text-anchor="end" transform="rotate(-43 172.10 409.30)">Slc8a1</text>
<text x="8.00" y="460.80" font-size="12.5" font-weight="bold" fill="#000">F</text>
<text x="54.80" y="462.30" font-size="8.6" textLength="31.00" lengthAdjust="spacingAndGlyphs">Ctrl IgG</text>
<text x="95.20" y="462.30" font-size="8.6" textLength="30.10" lengthAdjust="spacingAndGlyphs">cKO IgG</text>
<text x="148.80" y="462.30" font-size="8.6" textLength="13.20" lengthAdjust="spacingAndGlyphs">Ctrl</text>
<text x="186.90" y="462.30" font-size="8.6" textLength="14.60" lengthAdjust="spacingAndGlyphs">cKO</text>
<text x="48.90" y="488.80" font-size="8.2" text-anchor="end" textLength="19.80" lengthAdjust="spacingAndGlyphs">DAPI</text>
<text x="48.90" y="533.50" font-size="8.2" text-anchor="end" textLength="41.00" lengthAdjust="spacingAndGlyphs">CACNA1B</text>
<defs><filter id="bl" x="-30%" y="-30%" width="160%" height="160%"><feGaussianBlur stdDeviation="0.6"/></filter><filter id="bl2" x="-30%" y="-30%" width="160%" height="160%"><feGaussianBlur stdDeviation="0.9"/></filter></defs>
<rect x="51.60" y="464.90" width="164.20" height="79.20" fill="#e4e4e4"/>
<clipPath id="cf00"><rect x="52.4" y="465.5" width="39.20" height="38.00"/></clipPath>
<rect x="52.40" y="465.50" width="39.20" height="38.00" fill="#09091a"/>
<g clip-path="url(#cf00)">
<ellipse cx="61.2" cy="475.8" rx="6.2" ry="6.2" fill="#1d2c7e" filter="url(#bl)"/>
<ellipse cx="61.800000000000004" cy="476.0" rx="2.60" ry="3.10" fill="#121a58" opacity="0.8" filter="url(#bl)"/>
<ellipse cx="59.34" cy="473.94" rx="1.86" ry="1.86" fill="#283c9c" opacity="0.55" filter="url(#bl)"/>
<ellipse cx="78.9" cy="486.9" rx="7.9" ry="6.9" fill="#1d2c7e" filter="url(#bl)"/>
<ellipse cx="79.5" cy="487.09999999999997" rx="3.32" ry="3.45" fill="#121a58" opacity="0.8" filter="url(#bl)"/>
<ellipse cx="76.53" cy="484.83" rx="2.37" ry="2.07" fill="#283c9c" opacity="0.55" filter="url(#bl)"/>
<circle cx="63.6" cy="472.3" r="0.8" fill="#162060" opacity="0.55" filter="url(#bl)"/>
<circle cx="64.5" cy="475.1" r="1.6" fill="#3050c0" opacity="0.55" filter="url(#bl)"/>
<circle cx="58.3" cy="479.4" r="1.2" fill="#1a2870" opacity="0.55" filter="url(#bl)"/>
<circle cx="60.4" cy="479.9" r="1.6" fill="#3050c0" opacity="0.55" filter="url(#bl)"/>
<circle cx="57.2" cy="475.0" r="1.0" fill="#1a2870" opacity="0.55" filter="url(#bl)"/>
<circle cx="60.6" cy="471.2" r="1.2" fill="#3050c0" opacity="0.55" filter="url(#bl)"/>
<circle cx="63.8" cy="477.7" r="1.6" fill="#1a2870" opacity="0.55" filter="url(#bl)"/>
<circle cx="73.2" cy="487.6" r="0.8" fill="#3050c0" opacity="0.55" filter="url(#bl)"/>
<circle cx="84.1" cy="484.3" r="1.4" fill="#2c46b4" opacity="0.55" filter="url(#bl)"/>
<circle cx="74.4" cy="489.8" r="1.3" fill="#2c46b4" opacity="0.55" filter="url(#bl)"/>
<circle cx="80.6" cy="484.1" r="1.4" fill="#3050c0" opacity="0.55" filter="url(#bl)"/>
<circle cx="84.4" cy="488.9" r="1.0" fill="#1a2870" opacity="0.55" filter="url(#bl)"/>
<circle cx="84.3" cy="485.9" r="0.9" fill="#162060" opacity="0.55" filter="url(#bl)"/>
<circle cx="84.7" cy="486.7" r="0.9" fill="#162060" opacity="0.55" filter="url(#bl)"/>
</g>
<line x1="81.30" y1="501.60" x2="90.60" y2="501.60" stroke="#dcdcdc" stroke-width="1.3"/>
<clipPath id="cf01"><rect x="52.4" y="505.3" width="39.20" height="38.40"/></clipPath>
<rect x="52.40" y="505.30" width="39.20" height="38.40" fill="#09140f"/>
<g clip-path="url(#cf01)">
<ellipse cx="61.4" cy="515.9" rx="7.40" ry="7.20" fill="#143520" opacity="0.7" filter="url(#bl2)"/>
<ellipse cx="61.4" cy="515.9" rx="6.2" ry="6.0" fill="#1e368a" filter="url(#bl)"/>
<ellipse cx="62.0" cy="516.1" rx="2.48" ry="2.70" fill="#172d6c" opacity="0.8" filter="url(#bl)"/>
<ellipse cx="79.9" cy="527.4" rx="8.80" ry="8.40" fill="#143520" opacity="0.7" filter="url(#bl2)"/>
<ellipse cx="79.9" cy="527.4" rx="7.6" ry="7.2" fill="#1e368a" filter="url(#bl)"/>
<ellipse cx="80.5" cy="527.6" rx="3.04" ry="3.24" fill="#172d6c" opacity="0.8" filter="url(#bl)"/>
<circle cx="64.4" cy="519.1" r="1.0" fill="#2c46b4" opacity="0.55" filter="url(#bl)"/>
<circle cx="58.1" cy="516.0" r="1.4" fill="#162060" opacity="0.55" filter="url(#bl)"/>
<circle cx="63.0" cy="516.9" r="1.1" fill="#162060" opacity="0.55" filter="url(#bl)"/>
<circle cx="61.5" cy="514.1" r="1.0" fill="#162060" opacity="0.55" filter="url(#bl)"/>
<circle cx="62.6" cy="512.5" r="1.5" fill="#2c46b4" opacity="0.55" filter="url(#bl)"/>
<circle cx="63.3" cy="516.3" r="1.6" fill="#2c46b4" opacity="0.55" filter="url(#bl)"/>
<circle cx="59.5" cy="517.6" r="1.4" fill="#162060" opacity="0.55" filter="url(#bl)"/>
<circle cx="74.8" cy="526.6" r="1.2" fill="#162060" opacity="0.55" filter="url(#bl)"/>
<circle cx="77.2" cy="531.2" r="1.6" fill="#162060" opacity="0.55" filter="url(#bl)"/>
<circle cx="83.4" cy="525.8" r="0.9" fill="#2c46b4" opacity="0.55" filter="url(#bl)"/>
<circle cx="85.4" cy="527.2" r="1.4" fill="#2c46b4" opacity="0.55" filter="url(#bl)"/>
<circle cx="84.6" cy="523.9" r="1.2" fill="#162060" opacity="0.55" filter="url(#bl)"/>
<circle cx="82.4" cy="525.9" r="1.3" fill="#3050c0" opacity="0.55" filter="url(#bl)"/>
<circle cx="84.0" cy="523.9" r="1.3" fill="#162060" opacity="0.55" filter="url(#bl)"/>
</g>
<line x1="81.30" y1="541.80" x2="90.60" y2="541.80" stroke="#dcdcdc" stroke-width="1.3"/>
<clipPath id="cf10"><rect x="93.9" y="465.5" width="39.00" height="38.00"/></clipPath>
<rect x="93.90" y="465.50" width="39.00" height="38.00" fill="#09091a"/>
<g clip-path="url(#cf10)">
<ellipse cx="117.8" cy="473.1" rx="5.6" ry="5.4" fill="#1d2c7e" filter="url(#bl)"/>
<ellipse cx="118.39999999999999" cy="473.3" rx="2.35" ry="2.70" fill="#121a58" opacity="0.8" filter="url(#bl)"/>
<ellipse cx="116.12" cy="471.48" rx="1.68" ry="1.62" fill="#283c9c" opacity="0.55" filter="url(#bl)"/>
<ellipse cx="98.7" cy="480" rx="5.2" ry="5.6" fill="#1d2c7e" filter="url(#bl)"/>
<ellipse cx="99.3" cy="480.2" rx="2.18" ry="2.80" fill="#121a58" opacity="0.8" filter="url(#bl)"/>
<ellipse cx="97.14" cy="478.32" rx="1.56" ry="1.68" fill="#283c9c" opacity="0.55" filter="url(#bl)"/>
<ellipse cx="105.6" cy="492.7" rx="6.3" ry="5.6" fill="#1d2c7e" filter="url(#bl)"/>
<ellipse cx="106.19999999999999" cy="492.9" rx="2.65" ry="2.80" fill="#121a58" opacity="0.8" filter="url(#bl)"/>
<ellipse cx="103.71" cy="491.02" rx="1.89" ry="1.68" fill="#283c9c" opacity="0.55" filter="url(#bl)"/>
<ellipse cx="120" cy="492.7" rx="5.8" ry="5.4" fill="#1d2c7e" filter="url(#bl)"/>
<ellipse cx="120.6" cy="492.9" rx="2.44" ry="2.70" fill="#121a58" opacity="0.8" filter="url(#bl)"/>
<ellipse cx="118.26" cy="491.08" rx="1.74" ry="1.62" fill="#283c9c" opacity="0.55" filter="url(#bl)"/>
<circle cx="115.2" cy="471.9" r="1.0" fill="#2c46b4" opacity="0.55" filter="url(#bl)"/>
<circle cx="119.3" cy="469.6" r="0.8" fill="#1a2870" opacity="0.55" filter="url(#bl)"/>
<circle cx="115.9" cy="473.2" r="0.8" fill="#3050c0" opacity="0.55" filter="url(#bl)"/>
<circle cx="120.0" cy="470.6" r="1.1" fill="#162060" opacity="0.55" filter="url(#bl)"/>
<circle cx="118.9" cy="471.0" r="1.3" fill="#1a2870" opacity="0.55" filter="url(#bl)"/>
<circle cx="116.7" cy="471.4" r="1.6" fill="#1a2870" opacity="0.55" filter="url(#bl)"/>
<circle cx="116.4" cy="472.0" r="1.0" fill="#2c46b4" opacity="0.55" filter="url(#bl)"/>
<circle cx="100.0" cy="484.0" r="1.4" fill="#3050c0" opacity="0.55" filter="url(#bl)"/>
<circle cx="98.9" cy="483.5" r="1.1" fill="#162060" opacity="0.55" filter="url(#bl)"/>
<circle cx="101.5" cy="481.3" r="1.5" fill="#1a2870" opacity="0.55" filter="url(#bl)"/>
<circle cx="100.8" cy="479.6" r="1.2" fill="#2c46b4" opacity="0.55" filter="url(#bl)"/>
<circle cx="100.1" cy="476.8" r="0.9" fill="#2c46b4" opacity="0.55" filter="url(#bl)"/>
<circle cx="96.4" cy="478.9" r="0.9" fill="#1a2870" opacity="0.55" filter="url(#bl)"/>
<circle cx="99.0" cy="478.1" r="1.6" fill="#1a2870" opacity="0.55" filter="url(#bl)"/>
<circle cx="106.7" cy="495.2" r="1.2" fill="#162060" opacity="0.55" filter="url(#bl)"/>
<circle cx="104.6" cy="490.8" r="1.5" fill="#1a2870" opacity="0.55" filter="url(#bl)"/>
<circle cx="105.3" cy="495.2" r="1.4" fill="#1a2870" opacity="0.55" filter="url(#bl)"/>
<circle cx="102.6" cy="493.0" r="1.0" fill="#162060" opacity="0.55" filter="url(#bl)"/>
<circle cx="103.7" cy="492.2" r="1.0" fill="#3050c0" opacity="0.55" filter="url(#bl)"/>
<circle cx="105.4" cy="495.5" r="1.1" fill="#1a2870" opacity="0.55" filter="url(#bl)"/>
<circle cx="108.3" cy="490.1" r="1.4" fill="#1a2870" opacity="0.55" filter="url(#bl)"/>
<circle cx="122.5" cy="492.6" r="1.3" fill="#162060" opacity="0.55" filter="url(#bl)"/>
<circle cx="122.9" cy="493.8" r="1.5" fill="#162060" opacity="0.55" filter="url(#bl)"/>
<circle cx="122.2" cy="495.0" r="1.2" fill="#3050c0" opacity="0.55" filter="url(#bl)"/>
<circle cx="117.8" cy="492.8" r="0.9" fill="#162060" opacity="0.55" filter="url(#bl)"/>
<circle cx="124.1" cy="492.1" r="1.2" fill="#2c46b4" opacity="0.55" filter="url(#bl)"/>
<circle cx="122.5" cy="493.7" r="0.9" fill="#1a2870" opacity="0.55" filter="url(#bl)"/>
<circle cx="115.6" cy="493.9" r="0.9" fill="#162060" opacity="0.55" filter="url(#bl)"/>
</g>
<line x1="122.60" y1="501.60" x2="131.90" y2="501.60" stroke="#dcdcdc" stroke-width="1.3"/>
<clipPath id="cf11"><rect x="93.9" y="505.3" width="39.00" height="38.40"/></clipPath>
<rect x="93.90" y="505.30" width="39.00" height="38.40" fill="#09140f"/>
<g clip-path="url(#cf11)">
<ellipse cx="99" cy="520" rx="6.70" ry="7.00" fill="#143520" opacity="0.7" filter="url(#bl2)"/>
<ellipse cx="99" cy="520" rx="5.5" ry="5.8" fill="#1e368a" filter="url(#bl)"/>
<ellipse cx="99.6" cy="520.2" rx="2.20" ry="2.61" fill="#172d6c" opacity="0.8" filter="url(#bl)"/>
<ellipse cx="117.8" cy="513.5" rx="6.80" ry="6.60" fill="#143520" opacity="0.7" filter="url(#bl2)"/>
<ellipse cx="117.8" cy="513.5" rx="5.6" ry="5.4" fill="#1e368a" filter="url(#bl)"/>
<ellipse cx="118.39999999999999" cy="513.7" rx="2.24" ry="2.43" fill="#172d6c" opacity="0.8" filter="url(#bl)"/>
<ellipse cx="106" cy="532.3" rx="7.50" ry="7.00" fill="#143520" opacity="0.7" filter="url(#bl2)"/>
<ellipse cx="106" cy="532.3" rx="6.3" ry="5.8" fill="#1e368a" filter="url(#bl)"/>
<ellipse cx="106.6" cy="532.5" rx="2.52" ry="2.61" fill="#172d6c" opacity="0.8" filter="url(#bl)"/>
<ellipse cx="120" cy="533.1" rx="7.00" ry="6.80" fill="#143520" opacity="0.7" filter="url(#bl2)"/>
<ellipse cx="120" cy="533.1" rx="5.8" ry="5.6" fill="#1e368a" filter="url(#bl)"/>
<ellipse cx="120.6" cy="533.3000000000001" rx="2.32" ry="2.52" fill="#172d6c" opacity="0.8" filter="url(#bl)"/>
<circle cx="96.0" cy="521.0" r="1.2" fill="#162060" opacity="0.55" filter="url(#bl)"/>
<circle cx="100.3" cy="518.2" r="1.3" fill="#162060" opacity="0.55" filter="url(#bl)"/>
<circle cx="99.5" cy="518.1" r="0.9" fill="#3050c0" opacity="0.55" filter="url(#bl)"/>
<circle cx="95.0" cy="519.0" r="1.3" fill="#2c46b4" opacity="0.55" filter="url(#bl)"/>
<circle cx="96.7" cy="521.9" r="1.3" fill="#1a2870" opacity="0.55" filter="url(#bl)"/>
<circle cx="99.9" cy="518.3" r="1.0" fill="#2c46b4" opacity="0.55" filter="url(#bl)"/>
<circle cx="99.1" cy="521.8" r="1.1" fill="#162060" opacity="0.55" filter="url(#bl)"/>
<circle cx="115.9" cy="512.3" r="1.3" fill="#1a2870" opacity="0.55" filter="url(#bl)"/>
<circle cx="114.3" cy="513.5" r="1.3" fill="#162060" opacity="0.55" filter="url(#bl)"/>
<circle cx="115.1" cy="515.2" r="1.4" fill="#2c46b4" opacity="0.55" filter="url(#bl)"/>
<circle cx="116.9" cy="515.6" r="0.8" fill="#3050c0" opacity="0.55" filter="url(#bl)"/>
<circle cx="116.0" cy="512.8" r="1.5" fill="#2c46b4" opacity="0.55" filter="url(#bl)"/>
<circle cx="114.5" cy="516.3" r="1.0" fill="#2c46b4" opacity="0.55" filter="url(#bl)"/>
<circle cx="119.4" cy="512.7" r="1.6" fill="#162060" opacity="0.55" filter="url(#bl)"/>
<circle cx="104.3" cy="533.5" r="1.4" fill="#1a2870" opacity="0.55" filter="url(#bl)"/>
<circle cx="105.7" cy="534.3" r="0.8" fill="#3050c0" opacity="0.55" filter="url(#bl)"/>
<circle cx="101.9" cy="534.7" r="1.0" fill="#1a2870" opacity="0.55" filter="url(#bl)"/>
<circle cx="107.7" cy="533.4" r="0.9" fill="#162060" opacity="0.55" filter="url(#bl)"/>
<circle cx="102.9" cy="531.2" r="1.6" fill="#1a2870" opacity="0.55" filter="url(#bl)"/>
<circle cx="106.4" cy="529.4" r="0.9" fill="#162060" opacity="0.55" filter="url(#bl)"/>
<circle cx="103.8" cy="533.4" r="1.5" fill="#3050c0" opacity="0.55" filter="url(#bl)"/>
<circle cx="123.4" cy="532.6" r="1.0" fill="#2c46b4" opacity="0.55" filter="url(#bl)"/>
<circle cx="116.7" cy="535.6" r="0.8" fill="#2c46b4" opacity="0.55" filter="url(#bl)"/>
<circle cx="121.8" cy="535.4" r="1.4" fill="#2c46b4" opacity="0.55" filter="url(#bl)"/>
<circle cx="118.8" cy="535.3" r="0.9" fill="#2c46b4" opacity="0.55" filter="url(#bl)"/>
<circle cx="120.9" cy="536.4" r="1.3" fill="#2c46b4" opacity="0.55" filter="url(#bl)"/>
<circle cx="117.9" cy="535.2" r="1.5" fill="#162060" opacity="0.55" filter="url(#bl)"/>
<circle cx="121.9" cy="535.2" r="1.0" fill="#1a2870" opacity="0.55" filter="url(#bl)"/>
</g>
<line x1="122.60" y1="541.80" x2="131.90" y2="541.80" stroke="#dcdcdc" stroke-width="1.3"/>
<clipPath id="cf20"><rect x="135.3" y="465.5" width="38.90" height="38.00"/></clipPath>
<rect x="135.30" y="465.50" width="38.90" height="38.00" fill="#09091a"/>
<g clip-path="url(#cf20)">
<ellipse cx="149" cy="488.4" rx="7.4" ry="7.0" fill="#1d2c7e" filter="url(#bl)"/>
<ellipse cx="149.6" cy="488.59999999999997" rx="3.11" ry="3.50" fill="#121a58" opacity="0.8" filter="url(#bl)"/>
<ellipse cx="146.78" cy="486.30" rx="2.22" ry="2.10" fill="#283c9c" opacity="0.55" filter="url(#bl)"/>
<ellipse cx="159.4" cy="486.9" rx="6.4" ry="6.8" fill="#1d2c7e" filter="url(#bl)"/>
<ellipse cx="160.0" cy="487.09999999999997" rx="2.69" ry="3.40" fill="#121a58" opacity="0.8" filter="url(#bl)"/>
<ellipse cx="157.48" cy="484.86" rx="1.92" ry="2.04" fill="#283c9c" opacity="0.55" filter="url(#bl)"/>
<circle cx="152.9" cy="485.9" r="1.0" fill="#1a2870" opacity="0.55" filter="url(#bl)"/>
<circle cx="145.3" cy="484.4" r="1.3" fill="#3050c0" opacity="0.55" filter="url(#bl)"/>
<circle cx="150.8" cy="491.5" r="0.9" fill="#2c46b4" opacity="0.55" filter="url(#bl)"/>
<circle cx="146.6" cy="493.3" r="1.1" fill="#162060" opacity="0.55" filter="url(#bl)"/>
<circle cx="150.4" cy="492.5" r="1.1" fill="#3050c0" opacity="0.55" filter="url(#bl)"/>
<circle cx="152.5" cy="490.6" r="1.1" fill="#162060" opacity="0.55" filter="url(#bl)"/>
<circle cx="149.8" cy="491.2" r="0.9" fill="#1a2870" opacity="0.55" filter="url(#bl)"/>
<circle cx="160.9" cy="491.0" r="1.0" fill="#3050c0" opacity="0.55" filter="url(#bl)"/>
<circle cx="159.2" cy="491.1" r="1.0" fill="#2c46b4" opacity="0.55" filter="url(#bl)"/>
<circle cx="159.9" cy="491.8" r="0.8" fill="#1a2870" opacity="0.55" filter="url(#bl)"/>
<circle cx="160.6" cy="483.0" r="0.9" fill="#3050c0" opacity="0.55" filter="url(#bl)"/>
<circle cx="157.1" cy="483.6" r="1.5" fill="#162060" opacity="0.55" filter="url(#bl)"/>
<circle cx="161.9" cy="485.5" r="0.9" fill="#162060" opacity="0.55" filter="url(#bl)"/>
<circle cx="155.9" cy="489.4" r="1.4" fill="#2c46b4" opacity="0.55" filter="url(#bl)"/>
</g>
<line x1="163.90" y1="501.60" x2="173.20" y2="501.60" stroke="#dcdcdc" stroke-width="1.3"/>
<clipPath id="cf21"><rect x="135.3" y="505.3" width="38.90" height="38.40"/></clipPath>
<rect x="135.30" y="505.30" width="38.90" height="38.40" fill="#09140f"/>
<g clip-path="url(#cf21)">
<ellipse cx="147.9" cy="529.2" rx="6.4" ry="7.6" fill="#1f48b0" stroke="#2f8f3c" stroke-width="1.3" filter="url(#bl)"/>
<ellipse cx="148.4" cy="528.9000000000001" rx="2.05" ry="2.28" fill="#2f8f3c" opacity="0.5" filter="url(#bl)"/>
<ellipse cx="160" cy="526.9" rx="6.6" ry="7.8" fill="#1f48b0" stroke="#2f8f3c" stroke-width="1.3" filter="url(#bl)"/>
<ellipse cx="160.5" cy="526.6" rx="2.11" ry="2.34" fill="#2f8f3c" opacity="0.5" filter="url(#bl)"/>
<circle cx="150.0" cy="533.4" r="1.2" fill="#3050c0" opacity="0.55" filter="url(#bl)"/>
<circle cx="148.8" cy="534.4" r="1.2" fill="#1a2870" opacity="0.55" filter="url(#bl)"/>
<circle cx="148.1" cy="531.5" r="1.5" fill="#3050c0" opacity="0.55" filter="url(#bl)"/>
<circle cx="145.8" cy="530.4" r="1.5" fill="#1a2870" opacity="0.55" filter="url(#bl)"/>
<circle cx="146.8" cy="525.5" r="1.3" fill="#162060" opacity="0.55" filter="url(#bl)"/>
<circle cx="150.8" cy="529.9" r="1.4" fill="#162060" opacity="0.55" filter="url(#bl)"/>
<circle cx="145.0" cy="524.5" r="0.9" fill="#2c46b4" opacity="0.55" filter="url(#bl)"/>
<circle cx="161.0" cy="524.3" r="1.2" fill="#2c46b4" opacity="0.55" filter="url(#bl)"/>
<circle cx="157.1" cy="525.7" r="0.9" fill="#162060" opacity="0.55" filter="url(#bl)"/>
<circle cx="158.2" cy="523.3" r="0.9" fill="#1a2870" opacity="0.55" filter="url(#bl)"/>
<circle cx="161.4" cy="531.6" r="0.9" fill="#2c46b4" opacity="0.55" filter="url(#bl)"/>
<circle cx="155.3" cy="527.7" r="1.1" fill="#1a2870" opacity="0.55" filter="url(#bl)"/>
<circle cx="162.3" cy="530.4" r="1.1" fill="#3050c0" opacity="0.55" filter="url(#bl)"/>
<circle cx="156.9" cy="528.1" r="1.1" fill="#162060" opacity="0.55" filter="url(#bl)"/>
</g>
<line x1="163.90" y1="541.80" x2="173.20" y2="541.80" stroke="#dcdcdc" stroke-width="1.3"/>
<clipPath id="cf30"><rect x="176.0" y="465.5" width="39.30" height="38.00"/></clipPath>
<rect x="176.00" y="465.50" width="39.30" height="38.00" fill="#09091a"/>
<g clip-path="url(#cf30)">
<ellipse cx="180.6" cy="486.9" rx="3.70" ry="3.50" fill="#121a52" stroke="#26388f" stroke-width="1.9" filter="url(#bl)"/>
<ellipse cx="191.6" cy="481.6" rx="4.50" ry="4.10" fill="#121a52" stroke="#26388f" stroke-width="1.9" filter="url(#bl)"/>
<ellipse cx="198.7" cy="490.6" rx="4.50" ry="4.50" fill="#121a52" stroke="#26388f" stroke-width="1.9" filter="url(#bl)"/>
<ellipse cx="209.5" cy="486.3" rx="4.10" ry="4.50" fill="#121a52" stroke="#26388f" stroke-width="1.9" filter="url(#bl)"/>
</g>
<line x1="205.00" y1="501.60" x2="214.30" y2="501.60" stroke="#dcdcdc" stroke-width="1.3"/>
<clipPath id="cf31"><rect x="176.0" y="505.3" width="39.30" height="38.40"/></clipPath>
<rect x="176.00" y="505.30" width="39.30" height="38.40" fill="#09140f"/>
<g clip-path="url(#cf31)">
<ellipse cx="181.7" cy="526.3" rx="5.2" ry="5.3" fill="#1f48b0" stroke="#52c83c" stroke-width="1.8" filter="url(#bl)"/>
<ellipse cx="182.2" cy="526.0" rx="1.66" ry="1.59" fill="#52c83c" opacity="0.7" filter="url(#bl)"/>
<ellipse cx="191.6" cy="522" rx="6.3" ry="6.3" fill="#1f48b0" stroke="#52c83c" stroke-width="1.8" filter="url(#bl)"/>
<ellipse cx="192.1" cy="521.7" rx="2.02" ry="1.89" fill="#52c83c" opacity="0.7" filter="url(#bl)"/>
<ellipse cx="198.7" cy="530.6" rx="6.1" ry="6.1" fill="#1f48b0" stroke="#52c83c" stroke-width="1.8" filter="url(#bl)"/>
<ellipse cx="199.2" cy="530.3000000000001" rx="1.95" ry="1.83" fill="#52c83c" opacity="0.7" filter="url(#bl)"/>
<ellipse cx="209.7" cy="525.9" rx="5.6" ry="5.8" fill="#1f48b0" stroke="#52c83c" stroke-width="1.8" filter="url(#bl)"/>
<ellipse cx="210.2" cy="525.6" rx="1.79" ry="1.74" fill="#52c83c" opacity="0.7" filter="url(#bl)"/>
<circle cx="183.5" cy="526.4" r="0.9" fill="#162060" opacity="0.55" filter="url(#bl)"/>
<circle cx="185.6" cy="527.4" r="1.4" fill="#1a2870" opacity="0.55" filter="url(#bl)"/>
<circle cx="184.3" cy="529.5" r="1.3" fill="#2c46b4" opacity="0.55" filter="url(#bl)"/>
<circle cx="183.6" cy="528.6" r="1.2" fill="#162060" opacity="0.55" filter="url(#bl)"/>
<circle cx="182.6" cy="529.3" r="0.8" fill="#2c46b4" opacity="0.55" filter="url(#bl)"/>
<circle cx="184.1" cy="525.3" r="1.0" fill="#1a2870" opacity="0.55" filter="url(#bl)"/>
<circle cx="179.3" cy="528.3" r="1.0" fill="#1a2870" opacity="0.55" filter="url(#bl)"/>
<circle cx="192.4" cy="525.7" r="1.6" fill="#2c46b4" opacity="0.55" filter="url(#bl)"/>
<circle cx="193.2" cy="519.4" r="0.9" fill="#1a2870" opacity="0.55" filter="url(#bl)"/>
<circle cx="192.5" cy="519.1" r="1.4" fill="#2c46b4" opacity="0.55" filter="url(#bl)"/>
<circle cx="194.3" cy="519.1" r="1.0" fill="#1a2870" opacity="0.55" filter="url(#bl)"/>
<circle cx="188.8" cy="523.3" r="1.3" fill="#3050c0" opacity="0.55" filter="url(#bl)"/>
<circle cx="192.0" cy="524.0" r="1.0" fill="#3050c0" opacity="0.55" filter="url(#bl)"/>
<circle cx="188.5" cy="520.5" r="1.6" fill="#3050c0" opacity="0.55" filter="url(#bl)"/>
<circle cx="203.5" cy="529.9" r="1.5" fill="#3050c0" opacity="0.55" filter="url(#bl)"/>
<circle cx="194.3" cy="528.9" r="0.9" fill="#3050c0" opacity="0.55" filter="url(#bl)"/>
<circle cx="200.3" cy="534.9" r="1.4" fill="#3050c0" opacity="0.55" filter="url(#bl)"/>
<circle cx="201.2" cy="532.3" r="1.3" fill="#3050c0" opacity="0.55" filter="url(#bl)"/>
<circle cx="201.1" cy="530.5" r="1.0" fill="#162060" opacity="0.55" filter="url(#bl)"/>
<circle cx="197.2" cy="533.2" r="1.2" fill="#2c46b4" opacity="0.55" filter="url(#bl)"/>
<circle cx="200.3" cy="532.0" r="1.6" fill="#2c46b4" opacity="0.55" filter="url(#bl)"/>
<circle cx="210.3" cy="528.0" r="1.2" fill="#1a2870" opacity="0.55" filter="url(#bl)"/>
<circle cx="205.8" cy="525.9" r="1.5" fill="#3050c0" opacity="0.55" filter="url(#bl)"/>
<circle cx="212.7" cy="525.5" r="1.5" fill="#2c46b4" opacity="0.55" filter="url(#bl)"/>
<circle cx="205.8" cy="526.3" r="1.6" fill="#162060" opacity="0.55" filter="url(#bl)"/>
<circle cx="210.0" cy="523.4" r="1.1" fill="#162060" opacity="0.55" filter="url(#bl)"/>
<circle cx="212.4" cy="526.1" r="1.2" fill="#3050c0" opacity="0.55" filter="url(#bl)"/>
<circle cx="211.7" cy="525.8" r="1.5" fill="#2c46b4" opacity="0.55" filter="url(#bl)"/>
</g>
<line x1="205.00" y1="541.80" x2="214.30" y2="541.80" stroke="#dcdcdc" stroke-width="1.3"/>
<text x="234.70" y="504.00" font-size="10.4" text-anchor="middle" textLength="57.30" lengthAdjust="spacingAndGlyphs" transform="rotate(-90 234.70 504.00)">CACNA1B (MFI)</text>
<line x1="266.50" y1="469.30" x2="266.50" y2="538.60" stroke="#231f20" stroke-width="1.1"/>
<line x1="263.60" y1="538.10" x2="266.50" y2="538.10" stroke="#231f20" stroke-width="1"/>
<text x="259.70" y="540.60" font-size="8.6" text-anchor="end" textLength="4.75" lengthAdjust="spacingAndGlyphs">0</text>
<line x1="263.60" y1="521.62" x2="266.50" y2="521.62" stroke="#231f20" stroke-width="1"/>
<text x="259.70" y="524.12" font-size="8.6" text-anchor="end" textLength="14.25" lengthAdjust="spacingAndGlyphs">500</text>
<line x1="263.60" y1="505.15" x2="266.50" y2="505.15" stroke="#231f20" stroke-width="1"/>
<text x="259.70" y="507.65" font-size="8.6" text-anchor="end" textLength="19.00" lengthAdjust="spacingAndGlyphs">1000</text>
<line x1="263.60" y1="488.68" x2="266.50" y2="488.68" stroke="#231f20" stroke-width="1"/>
<text x="259.70" y="491.18" font-size="8.6" text-anchor="end" textLength="19.00" lengthAdjust="spacingAndGlyphs">1500</text>
<line x1="263.60" y1="472.20" x2="266.50" y2="472.20" stroke="#231f20" stroke-width="1"/>
<text x="259.70" y="474.70" font-size="8.6" text-anchor="end" textLength="19.00" lengthAdjust="spacingAndGlyphs">2000</text>
<line x1="266.00" y1="538.10" x2="309.90" y2="538.10" stroke="#231f20" stroke-width="1.1"/>
<rect x="272.50" y="506.14" width="12.20" height="31.96" fill="#2d4b7d"/>
<rect x="291.00" y="488.35" width="12.40" height="49.75" fill="#a50028"/>
<line x1="278.60" y1="506.14" x2="278.60" y2="497.80" stroke="#231f20" stroke-width="1"/>
<line x1="275.80" y1="497.80" x2="281.90" y2="497.80" stroke="#231f20" stroke-width="1"/>
<line x1="297.20" y1="488.35" x2="297.20" y2="477.60" stroke="#231f20" stroke-width="1"/>
<line x1="294.50" y1="477.60" x2="300.40" y2="477.60" stroke="#231f20" stroke-width="1"/>
<path d="M278.5,474.4 V470.6 H297.3 V474.4" fill="none" stroke="#231f20" stroke-width="1"/>
<text x="288.00" y="472.60" font-size="9" text-anchor="middle" textLength="10.50" lengthAdjust="spacingAndGlyphs">***</text>
<line x1="278.50" y1="538.10" x2="278.50" y2="541.20" stroke="#231f20" stroke-width="1"/>
<line x1="297.20" y1="538.10" x2="297.20" y2="541.20" stroke="#231f20" stroke-width="1"/>
<text x="278.20" y="551.90" font-size="8.4" text-anchor="middle" textLength="13.50" lengthAdjust="spacingAndGlyphs">Ctrl</text>
<text x="297.20" y="551.90" font-size="8.4" text-anchor="middle" textLength="17.30" lengthAdjust="spacingAndGlyphs">cKO</text>
<text x="327.70" y="460.80" font-size="12.5" font-weight="bold" fill="#000">G</text>
<rect x="393.50" y="455.90" width="18.30" height="5.30" fill="#2d4b7d"/>
<text x="415.00" y="461.70" font-size="8.4" textLength="23.40" lengthAdjust="spacingAndGlyphs">Empty</text>
<rect x="448.70" y="455.90" width="18.00" height="5.30" fill="#a50028"/>
<text x="470.20" y="461.70" font-size="8.4" textLength="28.30" lengthAdjust="spacingAndGlyphs">TWIST1</text>
<line x1="390.80" y1="466.80" x2="390.80" y2="538.80" stroke="#231f20" stroke-width="1.1"/>
<line x1="390.30" y1="538.30" x2="500.40" y2="538.30" stroke="#231f20" stroke-width="1.1"/>
<line x1="390.80" y1="538.30" x2="390.80" y2="541.20" stroke="#231f20" stroke-width="1"/>
<text x="390.80" y="551.80" font-size="8.4" text-anchor="middle">0</text>
<line x1="426.60" y1="538.30" x2="426.60" y2="541.20" stroke="#231f20" stroke-width="1"/>
<text x="426.60" y="551.80" font-size="8.4" text-anchor="middle">10</text>
<line x1="462.40" y1="538.30" x2="462.40" y2="541.20" stroke="#231f20" stroke-width="1"/>
<text x="462.40" y="551.80" font-size="8.4" text-anchor="middle">20</text>
<line x1="498.20" y1="538.30" x2="498.20" y2="541.20" stroke="#231f20" stroke-width="1"/>
<text x="498.20" y="551.80" font-size="8.4" text-anchor="middle">30</text>
<text x="446.00" y="566.10" font-size="9.5" text-anchor="middle" textLength="93.00" lengthAdjust="spacingAndGlyphs">Relative luciferase activity</text>
<text x="383.40" y="478.30" font-size="8.6" text-anchor="end" textLength="42.60" lengthAdjust="spacingAndGlyphs">pGL3 basic</text>
<line x1="387.60" y1="475.70" x2="390.80" y2="475.70" stroke="#231f20" stroke-width="1"/>
<rect x="391.20" y="471.70" width="3.18" height="3.50" fill="#2d4b7d"/>
<rect x="391.20" y="476.60" width="3.54" height="3.50" fill="#a50028"/>
<line x1="394.38" y1="473.45" x2="395.45" y2="473.45" stroke="#231f20" stroke-width="0.8"/>
<line x1="395.45" y1="472.10" x2="395.45" y2="474.60" stroke="#231f20" stroke-width="0.8"/>
<line x1="394.74" y1="478.35" x2="395.81" y2="478.35" stroke="#231f20" stroke-width="0.8"/>
<line x1="395.81" y1="477.00" x2="395.81" y2="479.50" stroke="#231f20" stroke-width="0.8"/>
<path d="M396.00,473.40 H400.60 V478.30 H395.50" fill="none" stroke="#231f20" stroke-width="0.9"/>
<text x="404.00" y="477.90" font-size="8" textLength="8.40" lengthAdjust="spacingAndGlyphs">ns</text>
<text x="383.40" y="492.20" font-size="8.6" text-anchor="end" textLength="51.40" lengthAdjust="spacingAndGlyphs">pGL3-500/+1</text>
<line x1="387.60" y1="489.60" x2="390.80" y2="489.60" stroke="#231f20" stroke-width="1"/>
<rect x="391.20" y="485.60" width="72.27" height="3.50" fill="#2d4b7d"/>
<rect x="391.20" y="490.50" width="82.66" height="3.50" fill="#a50028"/>
<line x1="463.47" y1="487.35" x2="466.34" y2="487.35" stroke="#231f20" stroke-width="0.8"/>
<line x1="466.34" y1="486.00" x2="466.34" y2="488.50" stroke="#231f20" stroke-width="0.8"/>
<line x1="473.86" y1="492.25" x2="478.15" y2="492.25" stroke="#231f20" stroke-width="0.8"/>
<line x1="478.15" y1="490.90" x2="478.15" y2="493.40" stroke="#231f20" stroke-width="0.8"/>
<path d="M481.90,487.30 H486.50 V492.20 H481.40" fill="none" stroke="#231f20" stroke-width="0.9"/>
<text x="489.90" y="491.80" font-size="8" textLength="8.40" lengthAdjust="spacingAndGlyphs">ns</text>
<text x="383.40" y="506.10" font-size="8.6" text-anchor="end" textLength="56.50" lengthAdjust="spacingAndGlyphs">pGL3-1000/+1</text>
<line x1="387.60" y1="503.50" x2="390.80" y2="503.50" stroke="#231f20" stroke-width="1"/>
<rect x="391.20" y="499.50" width="72.99" height="3.50" fill="#2d4b7d"/>
<rect x="391.20" y="504.40" width="77.29" height="3.50" fill="#a50028"/>
<line x1="464.19" y1="501.25" x2="467.41" y2="501.25" stroke="#231f20" stroke-width="0.8"/>
<line x1="467.41" y1="499.90" x2="467.41" y2="502.40" stroke="#231f20" stroke-width="0.8"/>
<line x1="468.49" y1="506.15" x2="470.63" y2="506.15" stroke="#231f20" stroke-width="0.8"/>
<line x1="470.63" y1="504.80" x2="470.63" y2="507.30" stroke="#231f20" stroke-width="0.8"/>
<path d="M471.50,501.20 H476.10 V506.10 H471.00" fill="none" stroke="#231f20" stroke-width="0.9"/>
<text x="479.50" y="505.70" font-size="8" textLength="8.40" lengthAdjust="spacingAndGlyphs">ns</text>
<text x="383.40" y="520.00" font-size="8.6" text-anchor="end" textLength="56.50" lengthAdjust="spacingAndGlyphs">pGL3-1500/+1</text>
<line x1="387.60" y1="517.40" x2="390.80" y2="517.40" stroke="#231f20" stroke-width="1"/>
<rect x="391.20" y="513.40" width="49.36" height="3.50" fill="#2d4b7d"/>
<rect x="391.20" y="518.30" width="54.37" height="3.50" fill="#a50028"/>
<line x1="440.56" y1="515.15" x2="443.43" y2="515.15" stroke="#231f20" stroke-width="0.8"/>
<line x1="443.43" y1="513.80" x2="443.43" y2="516.30" stroke="#231f20" stroke-width="0.8"/>
<line x1="445.57" y1="520.05" x2="448.44" y2="520.05" stroke="#231f20" stroke-width="0.8"/>
<line x1="448.44" y1="518.70" x2="448.44" y2="521.20" stroke="#231f20" stroke-width="0.8"/>
<path d="M450.80,515.10 H455.40 V520.00 H450.30" fill="none" stroke="#231f20" stroke-width="0.9"/>
<text x="458.80" y="519.60" font-size="8" textLength="8.40" lengthAdjust="spacingAndGlyphs">ns</text>
<text x="383.40" y="533.90" font-size="8.6" text-anchor="end" textLength="56.50" lengthAdjust="spacingAndGlyphs">pGL3-2000/+1</text>
<line x1="387.60" y1="531.30" x2="390.80" y2="531.30" stroke="#231f20" stroke-width="1"/>
<rect x="391.20" y="527.30" width="27.52" height="3.50" fill="#2d4b7d"/>
<rect x="391.20" y="532.20" width="16.07" height="3.50" fill="#a50028"/>
<line x1="418.72" y1="529.05" x2="423.02" y2="529.05" stroke="#231f20" stroke-width="0.8"/>
<line x1="423.02" y1="527.70" x2="423.02" y2="530.20" stroke="#231f20" stroke-width="0.8"/>
<line x1="407.27" y1="533.95" x2="408.34" y2="533.95" stroke="#231f20" stroke-width="0.8"/>
<line x1="408.34" y1="532.60" x2="408.34" y2="535.10" stroke="#231f20" stroke-width="0.8"/>
<path d="M424.20,529.00 H428.80 V533.90 H423.70" fill="none" stroke="#231f20" stroke-width="0.9"/>
<text x="433.20" y="537.30" font-size="9" textLength="6.50" lengthAdjust="spacingAndGlyphs">**</text>
<text x="8.00" y="596.30" font-size="12.5" font-weight="bold" fill="#000">H</text>
<text x="51.40" y="597.00" font-size="8.8" textLength="110.50" lengthAdjust="spacingAndGlyphs">Cacna1b promoter mutation</text>
<text x="24.80" y="607.40" font-size="6.6" textLength="17.50" lengthAdjust="spacingAndGlyphs">-1877</text>
<text x="44.80" y="607.40" font-size="6.6" textLength="18.00" lengthAdjust="spacingAndGlyphs">-1864</text>
<text x="74.00" y="607.40" font-size="6.6" textLength="17.40" lengthAdjust="spacingAndGlyphs">-1654</text>
<text x="94.10" y="607.40" font-size="6.6" textLength="17.40" lengthAdjust="spacingAndGlyphs">-1641</text>
<text x="116.30" y="607.40" font-size="6.6" textLength="17.40" lengthAdjust="spacingAndGlyphs">-1615</text>
<text x="136.50" y="607.40" font-size="6.6" textLength="17.30" lengthAdjust="spacingAndGlyphs">-1604</text>
<text x="8.30" y="616.40" font-size="8.6" textLength="13.00" lengthAdjust="spacingAndGlyphs">WT</text>
<line x1="24.30" y1="613.40" x2="169.50" y2="613.40" stroke="#333" stroke-width="1"/>
<rect x="38.10" y="609.20" width="20.70" height="8.50" fill="#2b4a85"/>
<text x="48.45" y="616.20" font-size="8.0" text-anchor="middle" font-weight="bold" fill="#fff">1</text>
<rect x="86.20" y="609.20" width="20.60" height="8.50" fill="#2b4a85"/>
<text x="96.50" y="616.20" font-size="8.0" text-anchor="middle" font-weight="bold" fill="#fff">2</text>
<rect x="120.60" y="609.20" width="20.20" height="8.50" fill="#2b4a85"/>
<text x="130.70" y="616.20" font-size="8.0" text-anchor="middle" font-weight="bold" fill="#fff">3</text>
<rect x="169.20" y="606.90" width="20.80" height="10.60" fill="#2b4a85"/>
<text x="179.60" y="616.20" font-size="8.2" text-anchor="middle" font-weight="bold" fill="#fff" textLength="15.50" lengthAdjust="spacingAndGlyphs">TSS</text>
<path d="M163.5,613.40 V601.90 H180" fill="none" stroke="#222" stroke-width="1"/>
<path d="M179,599.20 L185,601.90 L179,604.60 Z" fill="#222" stroke="none" stroke-width="1"/>
<text x="8.30" y="640.60" font-size="8.6" textLength="11.70" lengthAdjust="spacingAndGlyphs">m1</text>
<line x1="24.30" y1="637.60" x2="169.50" y2="637.60" stroke="#333" stroke-width="1"/>
<rect x="38.10" y="633.40" width="20.70" height="8.50" fill="#2b4a85"/>
<text x="48.45" y="640.40" font-size="8.0" text-anchor="middle" font-weight="bold" fill="#fff">x</text>
<rect x="86.20" y="633.40" width="20.60" height="8.50" fill="#2b4a85"/>
<text x="96.50" y="640.40" font-size="8.0" text-anchor="middle" font-weight="bold" fill="#fff">2</text>
<rect x="120.60" y="633.40" width="20.20" height="8.50" fill="#2b4a85"/>
<text x="130.70" y="640.40" font-size="8.0" text-anchor="middle" font-weight="bold" fill="#fff">3</text>
<rect x="169.20" y="631.10" width="20.80" height="10.60" fill="#2b4a85"/>
<text x="179.60" y="640.40" font-size="8.2" text-anchor="middle" font-weight="bold" fill="#fff" textLength="15.50" lengthAdjust="spacingAndGlyphs">TSS</text>
<path d="M163.5,637.60 V626.10 H180" fill="none" stroke="#222" stroke-width="1"/>
<path d="M179,623.40 L185,626.10 L179,628.80 Z" fill="#222" stroke="none" stroke-width="1"/>
<text x="8.30" y="664.80" font-size="8.6" textLength="11.70" lengthAdjust="spacingAndGlyphs">m2</text>
<line x1="24.30" y1="661.80" x2="169.50" y2="661.80" stroke="#333" stroke-width="1"/>
<rect x="38.10" y="657.60" width="20.70" height="8.50" fill="#2b4a85"/>
<text x="48.45" y="664.60" font-size="8.0" text-anchor="middle" font-weight="bold" fill="#fff">1</text>
<rect x="86.20" y="657.60" width="20.60" height="8.50" fill="#2b4a85"/>
<text x="96.50" y="664.60" font-size="8.0" text-anchor="middle" font-weight="bold" fill="#fff">x</text>
<rect x="120.60" y="657.60" width="20.20" height="8.50" fill="#2b4a85"/>
<text x="130.70" y="664.60" font-size="8.0" text-anchor="middle" font-weight="bold" fill="#fff">3</text>
<rect x="169.20" y="655.30" width="20.80" height="10.60" fill="#2b4a85"/>
<text x="179.60" y="664.60" font-size="8.2" text-anchor="middle" font-weight="bold" fill="#fff" textLength="15.50" lengthAdjust="spacingAndGlyphs">TSS</text>
<path d="M163.5,661.80 V650.30 H180" fill="none" stroke="#222" stroke-width="1"/>
<path d="M179,647.60 L185,650.30 L179,653.00 Z" fill="#222" stroke="none" stroke-width="1"/>
<text x="8.30" y="688.80" font-size="8.6" textLength="11.70" lengthAdjust="spacingAndGlyphs">m3</text>
<line x1="24.30" y1="685.80" x2="169.50" y2="685.80" stroke="#333" stroke-width="1"/>
<rect x="38.10" y="681.60" width="20.70" height="8.50" fill="#2b4a85"/>
<text x="48.45" y="688.60" font-size="8.0" text-anchor="middle" font-weight="bold" fill="#fff">1</text>
<rect x="86.20" y="681.60" width="20.60" height="8.50" fill="#2b4a85"/>
<text x="96.50" y="688.60" font-size="8.0" text-anchor="middle" font-weight="bold" fill="#fff">2</text>
<rect x="120.60" y="681.60" width="20.20" height="8.50" fill="#2b4a85"/>
<text x="130.70" y="688.60" font-size="8.0" text-anchor="middle" font-weight="bold" fill="#fff">x</text>
<rect x="169.20" y="679.30" width="20.80" height="10.60" fill="#2b4a85"/>
<text x="179.60" y="688.60" font-size="8.2" text-anchor="middle" font-weight="bold" fill="#fff" textLength="15.50" lengthAdjust="spacingAndGlyphs">TSS</text>
<path d="M163.5,685.80 V674.30 H180" fill="none" stroke="#222" stroke-width="1"/>
<path d="M179,671.60 L185,674.30 L179,677.00 Z" fill="#222" stroke="none" stroke-width="1"/>
<text x="210.30" y="641.40" font-size="9.8" text-anchor="middle" textLength="65.80" lengthAdjust="spacingAndGlyphs" transform="rotate(-90 210.30 641.40)">Relative luciferase</text>
<text x="221.40" y="641.40" font-size="9.8" text-anchor="middle" textLength="24.60" lengthAdjust="spacingAndGlyphs" transform="rotate(-90 221.40 641.40)">activity</text>
<line x1="243.50" y1="607.30" x2="243.50" y2="675.80" stroke="#231f20" stroke-width="1.1"/>
<line x1="240.50" y1="675.30" x2="243.50" y2="675.30" stroke="#231f20" stroke-width="1"/>
<text x="236.60" y="677.90" font-size="8.6" text-anchor="end" textLength="4.80" lengthAdjust="spacingAndGlyphs">0</text>
<line x1="240.50" y1="659.07" x2="243.50" y2="659.07" stroke="#231f20" stroke-width="1"/>
<text x="236.60" y="661.67" font-size="8.6" text-anchor="end" textLength="4.80" lengthAdjust="spacingAndGlyphs">5</text>
<line x1="240.50" y1="642.85" x2="243.50" y2="642.85" stroke="#231f20" stroke-width="1"/>
<text x="236.60" y="645.45" font-size="8.6" text-anchor="end" textLength="9.50" lengthAdjust="spacingAndGlyphs">10</text>
<line x1="240.50" y1="626.62" x2="243.50" y2="626.62" stroke="#231f20" stroke-width="1"/>
<text x="236.60" y="629.23" font-size="8.6" text-anchor="end" textLength="9.50" lengthAdjust="spacingAndGlyphs">15</text>
<line x1="240.50" y1="610.40" x2="243.50" y2="610.40" stroke="#231f20" stroke-width="1"/>
<text x="236.60" y="613.00" font-size="8.6" text-anchor="end" textLength="9.50" lengthAdjust="spacingAndGlyphs">20</text>
<line x1="243.00" y1="675.30" x2="341.90" y2="675.30" stroke="#231f20" stroke-width="1.1"/>
<rect x="247.30" y="630.19" width="6.70" height="45.11" fill="#2d4b7d"/>
<rect x="256.50" y="648.69" width="6.90" height="26.61" fill="#a50028"/>
<line x1="250.65" y1="630.19" x2="250.65" y2="627.27" stroke="#231f20" stroke-width="0.9"/>
<line x1="249.10" y1="627.27" x2="252.20" y2="627.27" stroke="#231f20" stroke-width="0.9"/>
<line x1="259.95" y1="648.69" x2="259.95" y2="648.04" stroke="#231f20" stroke-width="0.9"/>
<line x1="258.40" y1="648.04" x2="261.50" y2="648.04" stroke="#231f20" stroke-width="0.9"/>
<line x1="255.30" y1="675.30" x2="255.30" y2="678.30" stroke="#231f20" stroke-width="1"/>
<text x="255.30" y="689.00" font-size="8.6" text-anchor="middle" textLength="13.00" lengthAdjust="spacingAndGlyphs">WT</text>
<rect x="271.90" y="641.55" width="6.70" height="33.75" fill="#2d4b7d"/>
<rect x="281.10" y="655.83" width="6.90" height="19.47" fill="#a50028"/>
<line x1="279.90" y1="675.30" x2="279.90" y2="678.30" stroke="#231f20" stroke-width="1"/>
<text x="279.90" y="689.00" font-size="8.6" text-anchor="middle" textLength="11.50" lengthAdjust="spacingAndGlyphs">m1</text>
<rect x="296.50" y="643.82" width="6.70" height="31.48" fill="#2d4b7d"/>
<rect x="305.70" y="646.09" width="6.90" height="29.21" fill="#a50028"/>
<line x1="299.85" y1="643.82" x2="299.85" y2="641.55" stroke="#231f20" stroke-width="0.9"/>
<line x1="298.30" y1="641.55" x2="301.40" y2="641.55" stroke="#231f20" stroke-width="0.9"/>
<line x1="309.15" y1="646.09" x2="309.15" y2="644.47" stroke="#231f20" stroke-width="0.9"/>
<line x1="307.60" y1="644.47" x2="310.70" y2="644.47" stroke="#231f20" stroke-width="0.9"/>
<line x1="304.50" y1="675.30" x2="304.50" y2="678.30" stroke="#231f20" stroke-width="1"/>
<text x="304.50" y="689.00" font-size="8.6" text-anchor="middle" textLength="11.50" lengthAdjust="spacingAndGlyphs">m2</text>
<rect x="321.20" y="644.80" width="6.70" height="30.50" fill="#2d4b7d"/>
<rect x="330.40" y="654.53" width="6.90" height="20.77" fill="#a50028"/>
<line x1="333.85" y1="654.53" x2="333.85" y2="653.56" stroke="#231f20" stroke-width="0.9"/>
<line x1="332.30" y1="653.56" x2="335.40" y2="653.56" stroke="#231f20" stroke-width="0.9"/>
<line x1="328.50" y1="675.30" x2="328.50" y2="678.30" stroke="#231f20" stroke-width="1"/>
<text x="328.50" y="689.00" font-size="8.6" text-anchor="middle" textLength="11.50" lengthAdjust="spacingAndGlyphs">m3</text>
<path d="M250.7,623.5 V618.8 H260.7 V623.5" fill="none" stroke="#231f20" stroke-width="0.9"/>
<text x="255.70" y="620.80" font-size="9" text-anchor="middle" textLength="7.00" lengthAdjust="spacingAndGlyphs">**</text>
<path d="M275.0,638.5 V634.7 H285.0 V638.5" fill="none" stroke="#231f20" stroke-width="0.9"/>
<text x="280.00" y="636.70" font-size="9" text-anchor="middle" textLength="7.00" lengthAdjust="spacingAndGlyphs">**</text>
<path d="M299.6,639.0 V635.3 H309.6 V639.0" fill="none" stroke="#231f20" stroke-width="0.9"/>
<text x="304.60" y="632.00" font-size="8" text-anchor="middle" textLength="8.40" lengthAdjust="spacingAndGlyphs">ns</text>
<path d="M323.9,641.3 V637.6 H333.5 V641.3" fill="none" stroke="#231f20" stroke-width="0.9"/>
<text x="328.70" y="639.60" font-size="9" text-anchor="middle" textLength="7.00" lengthAdjust="spacingAndGlyphs">**</text>
<rect x="291.90" y="601.90" width="18.80" height="5.70" fill="#2d4b7d"/>
<text x="313.90" y="607.30" font-size="8.4" textLength="23.10" lengthAdjust="spacingAndGlyphs">Empty</text>
<rect x="291.90" y="613.50" width="18.80" height="5.70" fill="#a50028"/>
<text x="313.90" y="618.80" font-size="8.4" textLength="27.60" lengthAdjust="spacingAndGlyphs">TWIST1</text>
<text x="358.3" y="595.8" font-size="12.5" font-weight="bold" fill="#000">I</text>
<rect x="395.20" y="591.20" width="18.60" height="5.10" fill="#2d4b7d"/>
<text x="416.90" y="596.30" font-size="8.4" textLength="61.60" lengthAdjust="spacingAndGlyphs">Non-specific IgG</text>
<rect x="395.20" y="602.70" width="18.60" height="5.20" fill="#a50028"/>
<text x="416.90" y="607.90" font-size="8.4" textLength="63.00" lengthAdjust="spacingAndGlyphs">TWIST1 antibody</text>
<text x="369.30" y="640.55" font-size="9.6" text-anchor="middle" textLength="74.50" lengthAdjust="spacingAndGlyphs" transform="rotate(-90 369.30 640.55)">Relative to input (%)</text>
<line x1="391.80" y1="606.50" x2="391.80" y2="675.90" stroke="#231f20" stroke-width="1.1"/>
<line x1="388.80" y1="675.40" x2="391.80" y2="675.40" stroke="#231f20" stroke-width="1"/>
<text x="385.60" y="677.90" font-size="8.6" text-anchor="end" textLength="11.20" lengthAdjust="spacingAndGlyphs">0.0</text>
<line x1="388.80" y1="653.43" x2="391.80" y2="653.43" stroke="#231f20" stroke-width="1"/>
<text x="385.60" y="655.93" font-size="8.6" text-anchor="end" textLength="11.20" lengthAdjust="spacingAndGlyphs">0.5</text>
<line x1="388.80" y1="631.47" x2="391.80" y2="631.47" stroke="#231f20" stroke-width="1"/>
<text x="385.60" y="633.97" font-size="8.6" text-anchor="end" textLength="11.20" lengthAdjust="spacingAndGlyphs">1.0</text>
<line x1="388.80" y1="609.50" x2="391.80" y2="609.50" stroke="#231f20" stroke-width="1"/>
<text x="385.60" y="612.00" font-size="8.6" text-anchor="end" textLength="11.20" lengthAdjust="spacingAndGlyphs">1.5</text>
<line x1="391.30" y1="675.40" x2="490.80" y2="675.40" stroke="#231f20" stroke-width="1.1"/>
<rect x="397.00" y="673.60" width="4.50" height="1.50" fill="#3d5f9e"/>
<line x1="397.90" y1="673.00" x2="400.60" y2="673.00" stroke="#777" stroke-width="0.6"/>
<rect x="405.80" y="655.19" width="6.60" height="20.11" fill="#a50028"/>
<line x1="409.10" y1="655.19" x2="409.10" y2="650.80" stroke="#231f20" stroke-width="0.9"/>
<line x1="407.50" y1="650.80" x2="410.70" y2="650.80" stroke="#231f20" stroke-width="0.9"/>
<line x1="403.70" y1="675.30" x2="403.70" y2="678.30" stroke="#231f20" stroke-width="1"/>
<text x="403.70" y="689.10" font-size="8.6" text-anchor="middle" textLength="17.10" lengthAdjust="spacingAndGlyphs">EML</text>
<rect x="421.30" y="673.60" width="4.50" height="1.50" fill="#3d5f9e"/>
<line x1="422.20" y1="673.00" x2="424.90" y2="673.00" stroke="#777" stroke-width="0.6"/>
<rect x="429.80" y="661.78" width="6.60" height="13.52" fill="#a50028"/>
<line x1="433.10" y1="661.78" x2="433.10" y2="657.39" stroke="#231f20" stroke-width="0.9"/>
<line x1="431.50" y1="657.39" x2="434.70" y2="657.39" stroke="#231f20" stroke-width="0.9"/>
<line x1="428.80" y1="675.30" x2="428.80" y2="678.30" stroke="#231f20" stroke-width="1"/>
<text x="428.80" y="689.10" font-size="8.6" text-anchor="middle" textLength="12.70" lengthAdjust="spacingAndGlyphs">WT</text>
<rect x="446.10" y="673.60" width="4.50" height="1.50" fill="#3d5f9e"/>
<line x1="447.00" y1="673.00" x2="449.70" y2="673.00" stroke="#777" stroke-width="0.6"/>
<rect x="454.20" y="645.53" width="6.60" height="29.77" fill="#a50028"/>
<line x1="457.50" y1="645.53" x2="457.50" y2="632.78" stroke="#231f20" stroke-width="0.9"/>
<line x1="455.90" y1="632.78" x2="459.10" y2="632.78" stroke="#231f20" stroke-width="0.9"/>
<line x1="453.00" y1="675.30" x2="453.00" y2="678.30" stroke="#231f20" stroke-width="1"/>
<text x="453.00" y="689.10" font-size="8.6" text-anchor="middle" textLength="12.70" lengthAdjust="spacingAndGlyphs">WT</text>
<rect x="470.20" y="673.60" width="4.50" height="1.50" fill="#3d5f9e"/>
<line x1="471.10" y1="673.00" x2="473.80" y2="673.00" stroke="#777" stroke-width="0.6"/>
<rect x="478.90" y="672.76" width="6.60" height="2.54" fill="#a50028"/>
<line x1="482.20" y1="672.76" x2="482.20" y2="671.45" stroke="#231f20" stroke-width="0.9"/>
<line x1="480.60" y1="671.45" x2="483.80" y2="671.45" stroke="#231f20" stroke-width="0.9"/>
<line x1="477.80" y1="675.30" x2="477.80" y2="678.30" stroke="#231f20" stroke-width="1"/>
<text x="477.80" y="689.10" font-size="8.6" text-anchor="middle" textLength="16.50" lengthAdjust="spacingAndGlyphs">cKO</text>
<path d="M399.6,645.4 V641.5 H409 V645.4" fill="none" stroke="#231f20" stroke-width="0.9"/>
<text x="404.30" y="643.00" font-size="9" text-anchor="middle" textLength="7.00" lengthAdjust="spacingAndGlyphs">**</text>
<path d="M424,651.7 V647.3 H433.7 V651.7" fill="none" stroke="#231f20" stroke-width="0.9"/>
<text x="428.80" y="648.80" font-size="9" text-anchor="middle" textLength="7.00" lengthAdjust="spacingAndGlyphs">**</text>
<path d="M448.5,627 V623.5 H482.5 V627 M458.1,623.5 V627" fill="none" stroke="#231f20" stroke-width="0.9"/>
<text x="453.70" y="624.20" font-size="9" text-anchor="middle">*</text>
<text x="471.00" y="624.20" font-size="9" text-anchor="middle">*</text>
<path d="M472.9,665.4 V661.9 H481.9 V665.4" fill="none" stroke="#231f20" stroke-width="0.9"/>
<text x="477.40" y="659.60" font-size="8" text-anchor="middle" textLength="8.40" lengthAdjust="spacingAndGlyphs">ns</text>
<line x1="444.50" y1="694.10" x2="485.90" y2="694.10" stroke="#231f20" stroke-width="1"/>
<text x="435.40" y="705.00" font-size="8.6" textLength="58.60" lengthAdjust="spacingAndGlyphs">5-FU treatment</text>
<rect x="0.5" y="0.5" width="519" height="714" fill="none" stroke="#000" stroke-width="1.2"/>
</svg>
</body></html>
